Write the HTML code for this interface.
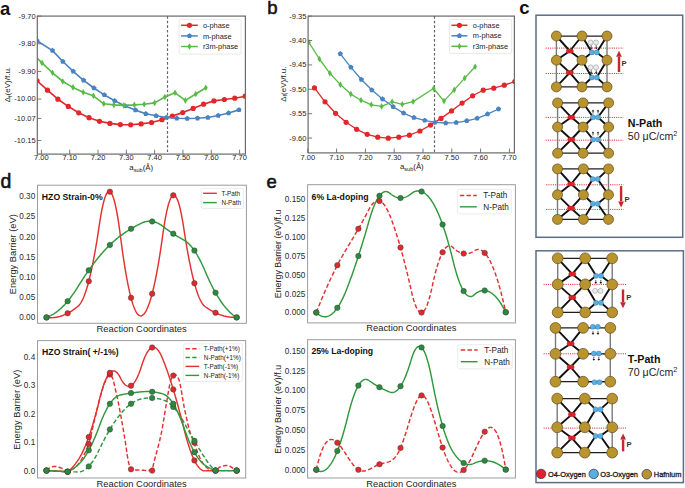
<!DOCTYPE html>
<html><head><meta charset="utf-8"><style>
html,body{margin:0;padding:0;background:#fff;}
svg{display:block;font-family:"Liberation Sans", sans-serif;}
</style></head><body>
<svg width="685" height="488" viewBox="0 0 685 488">
<rect x="0" y="0" width="685" height="488" fill="#fff"/>
<clipPath id="ca"><rect x="37.3" y="16.1" width="208.1" height="138"/></clipPath>
<line x1="167.5" y1="16.1" x2="167.5" y2="154.1" stroke="#666" stroke-width="1.2" stroke-dasharray="2.6,2.0"/>
<g clip-path="url(#ca)">
<polyline points="37.07,80.8 47.48,90.2 57.88,99.2 68.28,106.4 78.69,112.8 89.09,117.7 99.5,121.3 109.91,123.4 120.31,124.6 130.72,124.8 141.12,123.9 151.53,122.5 161.93,119.7 172.33,116 182.74,112.6 193.14,108.4 203.55,104.2 213.95,100.9 224.36,99.5 234.76,98.2 245.17,96.2" fill="none" stroke="#e2262b" stroke-width="1.65" stroke-linejoin="round"/>
<circle cx="37.07" cy="80.8" r="2.6" fill="#e2262b" stroke="none" stroke-width="0"/>
<circle cx="47.48" cy="90.2" r="2.6" fill="#e2262b" stroke="none" stroke-width="0"/>
<circle cx="57.88" cy="99.2" r="2.6" fill="#e2262b" stroke="none" stroke-width="0"/>
<circle cx="68.28" cy="106.4" r="2.6" fill="#e2262b" stroke="none" stroke-width="0"/>
<circle cx="78.69" cy="112.8" r="2.6" fill="#e2262b" stroke="none" stroke-width="0"/>
<circle cx="89.09" cy="117.7" r="2.6" fill="#e2262b" stroke="none" stroke-width="0"/>
<circle cx="99.5" cy="121.3" r="2.6" fill="#e2262b" stroke="none" stroke-width="0"/>
<circle cx="109.91" cy="123.4" r="2.6" fill="#e2262b" stroke="none" stroke-width="0"/>
<circle cx="120.31" cy="124.6" r="2.6" fill="#e2262b" stroke="none" stroke-width="0"/>
<circle cx="130.72" cy="124.8" r="2.6" fill="#e2262b" stroke="none" stroke-width="0"/>
<circle cx="141.12" cy="123.9" r="2.6" fill="#e2262b" stroke="none" stroke-width="0"/>
<circle cx="151.53" cy="122.5" r="2.6" fill="#e2262b" stroke="none" stroke-width="0"/>
<circle cx="161.93" cy="119.7" r="2.6" fill="#e2262b" stroke="none" stroke-width="0"/>
<circle cx="172.33" cy="116" r="2.6" fill="#e2262b" stroke="none" stroke-width="0"/>
<circle cx="182.74" cy="112.6" r="2.6" fill="#e2262b" stroke="none" stroke-width="0"/>
<circle cx="193.14" cy="108.4" r="2.6" fill="#e2262b" stroke="none" stroke-width="0"/>
<circle cx="203.55" cy="104.2" r="2.6" fill="#e2262b" stroke="none" stroke-width="0"/>
<circle cx="213.95" cy="100.9" r="2.6" fill="#e2262b" stroke="none" stroke-width="0"/>
<circle cx="224.36" cy="99.5" r="2.6" fill="#e2262b" stroke="none" stroke-width="0"/>
<circle cx="234.76" cy="98.2" r="2.6" fill="#e2262b" stroke="none" stroke-width="0"/>
<circle cx="245.17" cy="96.2" r="2.6" fill="#e2262b" stroke="none" stroke-width="0"/>
<polyline points="37,40.8 52.5,50.6 62.86,61.5 73.22,71.3 83.58,80.3 93.94,88 104.3,94.9 114.66,100.8 125.02,105.9 135.38,110.1 145.74,113.8 156.1,115.8 166.46,117.5 176.82,118.3 187.18,118.5 197.54,118.2 207.9,117.5 218.26,115.5 228.62,113 238.98,109.9" fill="none" stroke="#4a83c1" stroke-width="1.65" stroke-linejoin="round"/>
<polygon points="37,38.05 34.38,39.95 35.38,43.02 38.62,43.02 39.62,39.95" fill="#4a83c1"/>
<polygon points="52.5,47.85 49.88,49.75 50.88,52.82 54.12,52.82 55.12,49.75" fill="#4a83c1"/>
<polygon points="62.86,58.75 60.24,60.65 61.24,63.72 64.48,63.72 65.48,60.65" fill="#4a83c1"/>
<polygon points="73.22,68.55 70.6,70.45 71.6,73.52 74.84,73.52 75.84,70.45" fill="#4a83c1"/>
<polygon points="83.58,77.55 80.96,79.45 81.96,82.52 85.2,82.52 86.2,79.45" fill="#4a83c1"/>
<polygon points="93.94,85.25 91.32,87.15 92.32,90.22 95.56,90.22 96.56,87.15" fill="#4a83c1"/>
<polygon points="104.3,92.15 101.68,94.05 102.68,97.12 105.92,97.12 106.92,94.05" fill="#4a83c1"/>
<polygon points="114.66,98.05 112.04,99.95 113.04,103.02 116.28,103.02 117.28,99.95" fill="#4a83c1"/>
<polygon points="125.02,103.15 122.4,105.05 123.4,108.12 126.64,108.12 127.64,105.05" fill="#4a83c1"/>
<polygon points="135.38,107.35 132.76,109.25 133.76,112.32 137,112.32 138,109.25" fill="#4a83c1"/>
<polygon points="145.74,111.05 143.12,112.95 144.12,116.02 147.36,116.02 148.36,112.95" fill="#4a83c1"/>
<polygon points="156.1,113.05 153.48,114.95 154.48,118.02 157.72,118.02 158.72,114.95" fill="#4a83c1"/>
<polygon points="166.46,114.75 163.84,116.65 164.84,119.72 168.08,119.72 169.08,116.65" fill="#4a83c1"/>
<polygon points="176.82,115.55 174.2,117.45 175.2,120.52 178.44,120.52 179.44,117.45" fill="#4a83c1"/>
<polygon points="187.18,115.75 184.56,117.65 185.56,120.72 188.8,120.72 189.8,117.65" fill="#4a83c1"/>
<polygon points="197.54,115.45 194.92,117.35 195.92,120.42 199.16,120.42 200.16,117.35" fill="#4a83c1"/>
<polygon points="207.9,114.75 205.28,116.65 206.28,119.72 209.52,119.72 210.52,116.65" fill="#4a83c1"/>
<polygon points="218.26,112.75 215.64,114.65 216.64,117.72 219.88,117.72 220.88,114.65" fill="#4a83c1"/>
<polygon points="228.62,110.25 226,112.15 227,115.22 230.24,115.22 231.24,112.15" fill="#4a83c1"/>
<polygon points="238.98,107.15 236.36,109.05 237.36,112.12 240.6,112.12 241.6,109.05" fill="#4a83c1"/>
<polyline points="31.6,53.2 42,62.9 52.5,72.8 62.8,81.5 73,87.4 83.2,92.2 93.4,95.8 103.8,103.8 113.9,104.9 123.9,105.4 134.3,104.9 144.2,104.2 154.6,102.9 164.9,97 175,92.8 185.4,100.4 195.8,94 205.8,87.8" fill="none" stroke="#58bb46" stroke-width="1.65" stroke-linejoin="round"/>
<polygon points="31.6,49.9 33.55,53.2 31.6,56.5 29.65,53.2" fill="#58bb46"/>
<polygon points="42,59.6 43.95,62.9 42,66.2 40.05,62.9" fill="#58bb46"/>
<polygon points="52.5,69.5 54.45,72.8 52.5,76.1 50.55,72.8" fill="#58bb46"/>
<polygon points="62.8,78.2 64.75,81.5 62.8,84.8 60.85,81.5" fill="#58bb46"/>
<polygon points="73,84.1 74.95,87.4 73,90.7 71.05,87.4" fill="#58bb46"/>
<polygon points="83.2,88.9 85.15,92.2 83.2,95.5 81.25,92.2" fill="#58bb46"/>
<polygon points="93.4,92.5 95.35,95.8 93.4,99.1 91.45,95.8" fill="#58bb46"/>
<polygon points="103.8,100.5 105.75,103.8 103.8,107.1 101.85,103.8" fill="#58bb46"/>
<polygon points="113.9,101.6 115.85,104.9 113.9,108.2 111.95,104.9" fill="#58bb46"/>
<polygon points="123.9,102.1 125.85,105.4 123.9,108.7 121.95,105.4" fill="#58bb46"/>
<polygon points="134.3,101.6 136.25,104.9 134.3,108.2 132.35,104.9" fill="#58bb46"/>
<polygon points="144.2,100.9 146.15,104.2 144.2,107.5 142.25,104.2" fill="#58bb46"/>
<polygon points="154.6,99.6 156.55,102.9 154.6,106.2 152.65,102.9" fill="#58bb46"/>
<polygon points="164.9,93.7 166.85,97 164.9,100.3 162.95,97" fill="#58bb46"/>
<polygon points="175,89.5 176.95,92.8 175,96.1 173.05,92.8" fill="#58bb46"/>
<polygon points="185.4,97.1 187.35,100.4 185.4,103.7 183.45,100.4" fill="#58bb46"/>
<polygon points="195.8,90.7 197.75,94 195.8,97.3 193.85,94" fill="#58bb46"/>
<polygon points="205.8,84.5 207.75,87.8 205.8,91.1 203.85,87.8" fill="#58bb46"/>
</g>
<rect x="37.3" y="16.1" width="208.1" height="138" fill="none" stroke="#6a6a6a" stroke-width="1.2"/>
<line x1="41.4" y1="154.1" x2="41.4" y2="149.7" stroke="#6a6a6a" stroke-width="0.9"/>
<text x="41.4" y="160.4" font-size="7.5" text-anchor="middle" font-weight="normal" fill="#262626" >7.00</text>
<line x1="69.71" y1="154.1" x2="69.71" y2="149.7" stroke="#6a6a6a" stroke-width="0.9"/>
<text x="69.71" y="160.4" font-size="7.5" text-anchor="middle" font-weight="normal" fill="#262626" >7.10</text>
<line x1="98.02" y1="154.1" x2="98.02" y2="149.7" stroke="#6a6a6a" stroke-width="0.9"/>
<text x="98.02" y="160.4" font-size="7.5" text-anchor="middle" font-weight="normal" fill="#262626" >7.20</text>
<line x1="126.33" y1="154.1" x2="126.33" y2="149.7" stroke="#6a6a6a" stroke-width="0.9"/>
<text x="126.33" y="160.4" font-size="7.5" text-anchor="middle" font-weight="normal" fill="#262626" >7.30</text>
<line x1="154.64" y1="154.1" x2="154.64" y2="149.7" stroke="#6a6a6a" stroke-width="0.9"/>
<text x="154.64" y="160.4" font-size="7.5" text-anchor="middle" font-weight="normal" fill="#262626" >7.40</text>
<line x1="182.95" y1="154.1" x2="182.95" y2="149.7" stroke="#6a6a6a" stroke-width="0.9"/>
<text x="182.95" y="160.4" font-size="7.5" text-anchor="middle" font-weight="normal" fill="#262626" >7.50</text>
<line x1="211.26" y1="154.1" x2="211.26" y2="149.7" stroke="#6a6a6a" stroke-width="0.9"/>
<text x="211.26" y="160.4" font-size="7.5" text-anchor="middle" font-weight="normal" fill="#262626" >7.60</text>
<line x1="239.57" y1="154.1" x2="239.57" y2="149.7" stroke="#6a6a6a" stroke-width="0.9"/>
<text x="239.57" y="160.4" font-size="7.5" text-anchor="middle" font-weight="normal" fill="#262626" >7.70</text>
<line x1="37.3" y1="16.1" x2="41.3" y2="16.1" stroke="#6a6a6a" stroke-width="0.9"/>
<text x="35.6" y="18.5" font-size="7.5" text-anchor="end" font-weight="normal" fill="#262626" >-9.70</text>
<line x1="37.3" y1="43.75" x2="41.3" y2="43.75" stroke="#6a6a6a" stroke-width="0.9"/>
<text x="35.6" y="46.15" font-size="7.5" text-anchor="end" font-weight="normal" fill="#262626" >-9.80</text>
<line x1="37.3" y1="71.4" x2="41.3" y2="71.4" stroke="#6a6a6a" stroke-width="0.9"/>
<text x="35.6" y="73.8" font-size="7.5" text-anchor="end" font-weight="normal" fill="#262626" >-9.90</text>
<line x1="37.3" y1="99.05" x2="41.3" y2="99.05" stroke="#6a6a6a" stroke-width="0.9"/>
<text x="35.6" y="101.45" font-size="7.5" text-anchor="end" font-weight="normal" fill="#262626" >-10.00</text>
<line x1="37.3" y1="118.41" x2="41.3" y2="118.41" stroke="#6a6a6a" stroke-width="0.9"/>
<text x="35.6" y="120.81" font-size="7.5" text-anchor="end" font-weight="normal" fill="#262626" >-10.07</text>
<line x1="37.3" y1="140.53" x2="41.3" y2="140.53" stroke="#6a6a6a" stroke-width="0.9"/>
<text x="35.6" y="142.93" font-size="7.5" text-anchor="end" font-weight="normal" fill="#262626" >-10.15</text>
<rect x="179.2" y="19.4" width="61.9" height="34.7" rx="1.5" fill="#fff" fill-opacity="0.8" stroke="#e0e0e0" stroke-width="0.7"/>
<line x1="181.1" y1="25.3" x2="197.8" y2="25.3" stroke="#e2262b" stroke-width="1.5"/>
<circle cx="189.45" cy="25.3" r="2.6" fill="#e2262b" stroke="none" stroke-width="0"/>
<text x="202.9" y="27.9" font-size="7.4" text-anchor="start" font-weight="normal" fill="#222" >o-phase</text>
<line x1="181.1" y1="35.9" x2="197.8" y2="35.9" stroke="#4a83c1" stroke-width="1.5"/>
<polygon points="189.45,33.15 186.83,35.05 187.83,38.12 191.07,38.12 192.07,35.05" fill="#4a83c1"/>
<text x="202.9" y="38.5" font-size="7.4" text-anchor="start" font-weight="normal" fill="#222" >m-phase</text>
<line x1="181.1" y1="46.5" x2="197.8" y2="46.5" stroke="#58bb46" stroke-width="1.5"/>
<polygon points="189.45,43.2 191.4,46.5 189.45,49.8 187.5,46.5" fill="#58bb46"/>
<text x="202.9" y="49.1" font-size="7.4" text-anchor="start" font-weight="normal" fill="#222" >r3m-phase</text>
<text transform="translate(10.4,84.6) rotate(-90)" font-size="8" text-anchor="middle" fill="#222">&#916;<tspan font-size="5.6" dy="1.6">f</tspan><tspan dy="-1.6">(eV)/f.u.</tspan></text>
<text x="141.2" y="170.2" font-size="7.8" text-anchor="middle" fill="#222">a<tspan font-size="5.6" dy="1.7">sub</tspan><tspan dy="-1.7">(&#197;)</tspan></text>
<clipPath id="cb"><rect x="308.1" y="16.1" width="206.3" height="136.8"/></clipPath>
<line x1="434.5" y1="16.1" x2="434.5" y2="152.9" stroke="#666" stroke-width="1.2" stroke-dasharray="2.6,2.0"/>
<g clip-path="url(#cb)">
<polyline points="314.47,87.9 325.02,101.8 335.56,113.3 346.11,122.3 356.65,129.3 367.2,134.3 377.74,137.2 388.29,138.2 398.83,137.2 409.38,135.2 419.92,131 430.47,125.1 441.01,118.4 451.56,110.9 462.1,103.1 472.65,95.8 483.19,90.2 493.74,88.2 504.28,85.2 514.83,81.5" fill="none" stroke="#e2262b" stroke-width="1.3" stroke-linejoin="round"/>
<circle cx="314.47" cy="87.9" r="2.6" fill="#e2262b" stroke="none" stroke-width="0"/>
<circle cx="325.02" cy="101.8" r="2.6" fill="#e2262b" stroke="none" stroke-width="0"/>
<circle cx="335.56" cy="113.3" r="2.6" fill="#e2262b" stroke="none" stroke-width="0"/>
<circle cx="346.11" cy="122.3" r="2.6" fill="#e2262b" stroke="none" stroke-width="0"/>
<circle cx="356.65" cy="129.3" r="2.6" fill="#e2262b" stroke="none" stroke-width="0"/>
<circle cx="367.2" cy="134.3" r="2.6" fill="#e2262b" stroke="none" stroke-width="0"/>
<circle cx="377.74" cy="137.2" r="2.6" fill="#e2262b" stroke="none" stroke-width="0"/>
<circle cx="388.29" cy="138.2" r="2.6" fill="#e2262b" stroke="none" stroke-width="0"/>
<circle cx="398.83" cy="137.2" r="2.6" fill="#e2262b" stroke="none" stroke-width="0"/>
<circle cx="409.38" cy="135.2" r="2.6" fill="#e2262b" stroke="none" stroke-width="0"/>
<circle cx="419.92" cy="131" r="2.6" fill="#e2262b" stroke="none" stroke-width="0"/>
<circle cx="430.47" cy="125.1" r="2.6" fill="#e2262b" stroke="none" stroke-width="0"/>
<circle cx="441.01" cy="118.4" r="2.6" fill="#e2262b" stroke="none" stroke-width="0"/>
<circle cx="451.56" cy="110.9" r="2.6" fill="#e2262b" stroke="none" stroke-width="0"/>
<circle cx="462.1" cy="103.1" r="2.6" fill="#e2262b" stroke="none" stroke-width="0"/>
<circle cx="472.65" cy="95.8" r="2.6" fill="#e2262b" stroke="none" stroke-width="0"/>
<circle cx="483.19" cy="90.2" r="2.6" fill="#e2262b" stroke="none" stroke-width="0"/>
<circle cx="493.74" cy="88.2" r="2.6" fill="#e2262b" stroke="none" stroke-width="0"/>
<circle cx="504.28" cy="85.2" r="2.6" fill="#e2262b" stroke="none" stroke-width="0"/>
<circle cx="514.83" cy="81.5" r="2.6" fill="#e2262b" stroke="none" stroke-width="0"/>
<polyline points="340.3,53.8 350.9,67.3 361.4,79.5 371.8,90 382.5,99 393.1,106.7 403.5,113.1 413.9,117.6 424.7,120.4 434.9,122.4 445.7,123 456.2,122.6 466.8,120.8 477.2,118.3 487.6,114.1 498.5,109" fill="none" stroke="#4a83c1" stroke-width="1.3" stroke-linejoin="round"/>
<polygon points="340.3,51.05 337.68,52.95 338.68,56.02 341.92,56.02 342.92,52.95" fill="#4a83c1"/>
<polygon points="350.9,64.55 348.28,66.45 349.28,69.52 352.52,69.52 353.52,66.45" fill="#4a83c1"/>
<polygon points="361.4,76.75 358.78,78.65 359.78,81.72 363.02,81.72 364.02,78.65" fill="#4a83c1"/>
<polygon points="371.8,87.25 369.18,89.15 370.18,92.22 373.42,92.22 374.42,89.15" fill="#4a83c1"/>
<polygon points="382.5,96.25 379.88,98.15 380.88,101.22 384.12,101.22 385.12,98.15" fill="#4a83c1"/>
<polygon points="393.1,103.95 390.48,105.85 391.48,108.92 394.72,108.92 395.72,105.85" fill="#4a83c1"/>
<polygon points="403.5,110.35 400.88,112.25 401.88,115.32 405.12,115.32 406.12,112.25" fill="#4a83c1"/>
<polygon points="413.9,114.85 411.28,116.75 412.28,119.82 415.52,119.82 416.52,116.75" fill="#4a83c1"/>
<polygon points="424.7,117.65 422.08,119.55 423.08,122.62 426.32,122.62 427.32,119.55" fill="#4a83c1"/>
<polygon points="434.9,119.65 432.28,121.55 433.28,124.62 436.52,124.62 437.52,121.55" fill="#4a83c1"/>
<polygon points="445.7,120.25 443.08,122.15 444.08,125.22 447.32,125.22 448.32,122.15" fill="#4a83c1"/>
<polygon points="456.2,119.85 453.58,121.75 454.58,124.82 457.82,124.82 458.82,121.75" fill="#4a83c1"/>
<polygon points="466.8,118.05 464.18,119.95 465.18,123.02 468.42,123.02 469.42,119.95" fill="#4a83c1"/>
<polygon points="477.2,115.55 474.58,117.45 475.58,120.52 478.82,120.52 479.82,117.45" fill="#4a83c1"/>
<polygon points="487.6,111.35 484.98,113.25 485.98,116.32 489.22,116.32 490.22,113.25" fill="#4a83c1"/>
<polygon points="498.5,106.25 495.88,108.15 496.88,111.22 500.12,111.22 501.12,108.15" fill="#4a83c1"/>
<polyline points="308.9,42.3 319.4,59 329.9,73.3 340.3,84.6 350.8,94.1 361,100.2 371.3,104.8 381.6,106.4 392.1,101.8 402.3,104.3 413.1,101.6 433.6,88.5 444,101.1 454.2,89.9 464.7,78.1 475.1,66.7" fill="none" stroke="#58bb46" stroke-width="1.3" stroke-linejoin="round"/>
<polygon points="308.9,39 310.85,42.3 308.9,45.6 306.95,42.3" fill="#58bb46"/>
<polygon points="319.4,55.7 321.35,59 319.4,62.3 317.45,59" fill="#58bb46"/>
<polygon points="329.9,70 331.85,73.3 329.9,76.6 327.95,73.3" fill="#58bb46"/>
<polygon points="340.3,81.3 342.25,84.6 340.3,87.9 338.35,84.6" fill="#58bb46"/>
<polygon points="350.8,90.8 352.75,94.1 350.8,97.4 348.85,94.1" fill="#58bb46"/>
<polygon points="361,96.9 362.95,100.2 361,103.5 359.05,100.2" fill="#58bb46"/>
<polygon points="371.3,101.5 373.25,104.8 371.3,108.1 369.35,104.8" fill="#58bb46"/>
<polygon points="381.6,103.1 383.55,106.4 381.6,109.7 379.65,106.4" fill="#58bb46"/>
<polygon points="392.1,98.5 394.05,101.8 392.1,105.1 390.15,101.8" fill="#58bb46"/>
<polygon points="402.3,101 404.25,104.3 402.3,107.6 400.35,104.3" fill="#58bb46"/>
<polygon points="413.1,98.3 415.05,101.6 413.1,104.9 411.15,101.6" fill="#58bb46"/>
<polygon points="433.6,85.2 435.55,88.5 433.6,91.8 431.65,88.5" fill="#58bb46"/>
<polygon points="444,97.8 445.95,101.1 444,104.4 442.05,101.1" fill="#58bb46"/>
<polygon points="454.2,86.6 456.15,89.9 454.2,93.2 452.25,89.9" fill="#58bb46"/>
<polygon points="464.7,74.8 466.65,78.1 464.7,81.4 462.75,78.1" fill="#58bb46"/>
<polygon points="475.1,63.4 477.05,66.7 475.1,70 473.15,66.7" fill="#58bb46"/>
</g>
<rect x="308.1" y="16.1" width="206.3" height="136.8" fill="none" stroke="#6a6a6a" stroke-width="1.2"/>
<line x1="307.8" y1="152.9" x2="307.8" y2="148.5" stroke="#6a6a6a" stroke-width="0.9"/>
<text x="307.8" y="159.8" font-size="7.5" text-anchor="middle" font-weight="normal" fill="#262626" >7.00</text>
<line x1="336.6" y1="152.9" x2="336.6" y2="148.5" stroke="#6a6a6a" stroke-width="0.9"/>
<text x="336.6" y="159.8" font-size="7.5" text-anchor="middle" font-weight="normal" fill="#262626" >7.10</text>
<line x1="365.4" y1="152.9" x2="365.4" y2="148.5" stroke="#6a6a6a" stroke-width="0.9"/>
<text x="365.4" y="159.8" font-size="7.5" text-anchor="middle" font-weight="normal" fill="#262626" >7.20</text>
<line x1="394.2" y1="152.9" x2="394.2" y2="148.5" stroke="#6a6a6a" stroke-width="0.9"/>
<text x="394.2" y="159.8" font-size="7.5" text-anchor="middle" font-weight="normal" fill="#262626" >7.30</text>
<line x1="423" y1="152.9" x2="423" y2="148.5" stroke="#6a6a6a" stroke-width="0.9"/>
<text x="423" y="159.8" font-size="7.5" text-anchor="middle" font-weight="normal" fill="#262626" >7.40</text>
<line x1="451.8" y1="152.9" x2="451.8" y2="148.5" stroke="#6a6a6a" stroke-width="0.9"/>
<text x="451.8" y="159.8" font-size="7.5" text-anchor="middle" font-weight="normal" fill="#262626" >7.50</text>
<line x1="480.6" y1="152.9" x2="480.6" y2="148.5" stroke="#6a6a6a" stroke-width="0.9"/>
<text x="480.6" y="159.8" font-size="7.5" text-anchor="middle" font-weight="normal" fill="#262626" >7.60</text>
<line x1="509.4" y1="152.9" x2="509.4" y2="148.5" stroke="#6a6a6a" stroke-width="0.9"/>
<text x="509.4" y="159.8" font-size="7.5" text-anchor="middle" font-weight="normal" fill="#262626" >7.70</text>
<line x1="308.1" y1="16.1" x2="312.1" y2="16.1" stroke="#6a6a6a" stroke-width="0.9"/>
<text x="306.4" y="18.5" font-size="7.5" text-anchor="end" font-weight="normal" fill="#262626" >-9.35</text>
<line x1="308.1" y1="40.5" x2="312.1" y2="40.5" stroke="#6a6a6a" stroke-width="0.9"/>
<text x="306.4" y="42.9" font-size="7.5" text-anchor="end" font-weight="normal" fill="#262626" >-9.40</text>
<line x1="308.1" y1="64.9" x2="312.1" y2="64.9" stroke="#6a6a6a" stroke-width="0.9"/>
<text x="306.4" y="67.3" font-size="7.5" text-anchor="end" font-weight="normal" fill="#262626" >-9.45</text>
<line x1="308.1" y1="89.3" x2="312.1" y2="89.3" stroke="#6a6a6a" stroke-width="0.9"/>
<text x="306.4" y="91.7" font-size="7.5" text-anchor="end" font-weight="normal" fill="#262626" >-9.50</text>
<line x1="308.1" y1="113.7" x2="312.1" y2="113.7" stroke="#6a6a6a" stroke-width="0.9"/>
<text x="306.4" y="116.1" font-size="7.5" text-anchor="end" font-weight="normal" fill="#262626" >-9.55</text>
<line x1="308.1" y1="138.1" x2="312.1" y2="138.1" stroke="#6a6a6a" stroke-width="0.9"/>
<text x="306.4" y="140.5" font-size="7.5" text-anchor="end" font-weight="normal" fill="#262626" >-9.60</text>
<rect x="449.6" y="19.5" width="62.1" height="33.9" rx="1.5" fill="#fff" fill-opacity="0.8" stroke="#e0e0e0" stroke-width="0.7"/>
<line x1="451.4" y1="25.3" x2="467.4" y2="25.3" stroke="#e2262b" stroke-width="1.5"/>
<circle cx="459.4" cy="25.3" r="2.6" fill="#e2262b" stroke="none" stroke-width="0"/>
<text x="472.8" y="27.9" font-size="7.4" text-anchor="start" font-weight="normal" fill="#222" >o-phase</text>
<line x1="451.4" y1="35.8" x2="467.4" y2="35.8" stroke="#4a83c1" stroke-width="1.5"/>
<polygon points="459.4,33.05 456.78,34.95 457.78,38.02 461.02,38.02 462.02,34.95" fill="#4a83c1"/>
<text x="472.8" y="38.4" font-size="7.4" text-anchor="start" font-weight="normal" fill="#222" >m-phase</text>
<line x1="451.4" y1="46.3" x2="467.4" y2="46.3" stroke="#58bb46" stroke-width="1.5"/>
<polygon points="459.4,43 461.35,46.3 459.4,49.6 457.45,46.3" fill="#58bb46"/>
<text x="472.8" y="48.9" font-size="7.4" text-anchor="start" font-weight="normal" fill="#222" >r3m-phase</text>
<text transform="translate(285.8,84.2) rotate(-90)" font-size="8" text-anchor="middle" fill="#222">&#916;<tspan font-size="5.6" dy="1.6">f</tspan><tspan dy="-1.6">(eV)/f.u.</tspan></text>
<text x="411.8" y="169" font-size="7.8" text-anchor="middle" fill="#222">a<tspan font-size="5.6" dy="1.7">sub</tspan><tspan dy="-1.7">(&#197;)</tspan></text>
<rect x="37.5" y="185.2" width="208.9" height="138.1" fill="none" stroke="#9c9c9c" stroke-width="1"/>
<polyline points="46.5,317.4 47.2,317.49 47.91,317.56 48.61,317.61 49.32,317.65 50.02,317.68 50.73,317.69 51.43,317.68 52.13,317.66 52.84,317.62 53.54,317.57 54.25,317.5 54.95,317.42 55.66,317.32 56.36,317.21 57.06,317.08 57.77,316.94 58.47,316.78 59.18,316.6 59.88,316.41 60.59,316.2 61.29,315.98 62,315.75 62.7,315.49 63.4,315.23 64.11,314.94 64.81,314.65 65.52,314.33 66.22,314 66.93,313.66 67.63,313.3 68.33,312.93 69.04,312.53 69.74,312.13 70.45,311.71 71.15,311.27 71.86,310.82 72.56,310.35 73.26,309.87 73.97,309.37 74.67,308.86 75.38,308.33 76.08,307.79 76.79,307.23 77.49,306.65 78.19,306.06 78.9,305.39 79.6,304.58 80.31,303.64 81.01,302.55 81.72,301.32 82.42,299.95 83.13,298.44 83.83,296.79 84.53,294.99 85.24,293.06 85.94,290.99 86.65,288.78 87.35,286.43 88.06,283.93 88.76,281.3 89.46,278.53 90.17,275.61 90.87,272.56 91.58,269.36 92.28,266.03 92.99,262.55 93.69,258.94 94.39,255.18 95.1,251.28 95.8,247.25 96.51,243.07 97.21,238.75 97.92,234.29 98.62,229.69 99.32,224.95 100.03,220.32 100.73,216.03 101.44,212.08 102.14,208.48 102.85,205.23 103.55,202.32 104.26,199.76 104.96,197.54 105.66,195.67 106.37,194.14 107.07,192.96 107.78,192.13 108.48,191.64 109.19,191.5 109.89,191.7 110.59,192.25 111.3,193.14 112,194.38 112.71,195.97 113.41,197.9 114.12,200.17 114.82,202.8 115.52,205.76 116.23,209.08 116.93,212.74 117.64,216.74 118.34,221.09 119.05,225.79 119.75,230.83 120.45,236.22 121.16,241.68 121.86,246.95 122.57,252.02 123.27,256.9 123.98,261.59 124.68,266.08 125.39,270.38 126.09,274.49 126.79,278.4 127.5,282.12 128.2,285.64 128.91,288.97 129.61,292.11 130.32,295.05 131.02,297.8 131.72,300.35 132.43,302.71 133.13,304.88 133.84,306.85 134.54,308.63 135.25,310.22 135.95,311.61 136.65,312.81 137.36,313.81 138.06,314.62 138.77,315.23 139.47,315.65 140.18,315.88 140.88,315.92 141.58,315.75 142.29,315.42 142.99,314.92 143.7,314.26 144.4,313.43 145.11,312.45 145.81,311.3 146.52,309.99 147.22,308.52 147.92,306.89 148.63,305.09 149.33,303.14 150.04,301.02 150.74,298.74 151.45,296.3 152.15,293.7 152.85,290.94 153.56,288.01 154.26,284.92 154.97,281.67 155.67,278.26 156.38,274.69 157.08,270.95 157.78,267.06 158.49,263 159.19,258.78 159.9,254.4 160.6,249.86 161.31,245.15 162.01,240.28 162.71,235.26 163.42,230.31 164.12,225.69 164.83,221.4 165.53,217.43 166.24,213.79 166.94,210.47 167.65,207.48 168.35,204.82 169.05,202.48 169.76,200.47 170.46,198.78 171.17,197.42 171.87,196.39 172.58,195.68 173.28,195.3 173.98,195.24 174.69,195.52 175.39,196.11 176.1,197.04 176.8,198.29 177.51,199.86 178.21,201.76 178.91,203.99 179.62,206.54 180.32,209.42 181.03,212.63 181.73,216.16 182.44,220.02 183.14,224.2 183.84,228.71 184.55,233.32 185.25,237.78 185.96,242.11 186.66,246.29 187.37,250.34 188.07,254.25 188.78,258.02 189.48,261.66 190.18,265.15 190.89,268.51 191.59,271.72 192.3,274.8 193,277.74 193.71,280.54 194.41,283.2 195.11,285.72 195.82,288.11 196.52,290.35 197.23,292.46 197.93,294.43 198.64,296.26 199.34,297.95 200.04,299.5 200.75,300.91 201.45,302.18 202.16,303.32 202.86,304.32 203.57,305.17 204.27,305.89 204.97,306.47 205.68,306.98 206.38,307.47 207.09,307.95 207.79,308.42 208.5,308.88 209.2,309.33 209.91,309.76 210.61,310.18 211.31,310.59 212.02,310.99 212.72,311.38 213.43,311.75 214.13,312.11 214.84,312.46 215.54,312.8 216.24,313.13 216.95,313.44 217.65,313.74 218.36,314.03 219.06,314.31 219.77,314.58 220.47,314.83 221.17,315.08 221.88,315.31 222.58,315.53 223.29,315.73 223.99,315.93 224.7,316.11 225.4,316.28 226.1,316.44 226.81,316.59 227.51,316.72 228.22,316.85 228.92,316.96 229.63,317.06 230.33,317.15 231.04,317.22 231.74,317.29 232.44,317.34 233.15,317.38 233.85,317.41 234.56,317.42 235.26,317.43 235.97,317.42 236.67,317.4" fill="none" stroke="#e3312f" stroke-width="1.45"/>
<polyline points="46.5,317.4 47.2,317.15 47.91,316.88 48.61,316.59 49.32,316.28 50.02,315.95 50.73,315.6 51.43,315.23 52.13,314.84 52.84,314.43 53.54,314 54.25,313.55 54.95,313.08 55.66,312.59 56.36,312.08 57.06,311.55 57.77,311 58.47,310.43 59.18,309.84 59.88,309.23 60.59,308.6 61.29,307.95 62,307.28 62.7,306.59 63.4,305.88 64.11,305.15 64.81,304.4 65.52,303.63 66.22,302.84 66.93,302.03 67.63,301.2 68.33,300.35 69.04,299.48 69.74,298.59 70.45,297.68 71.15,296.75 71.86,295.8 72.56,294.82 73.26,293.83 73.97,292.82 74.67,291.79 75.38,290.74 76.08,289.67 76.79,288.58 77.49,287.47 78.19,286.34 78.9,285.2 79.6,284.07 80.31,282.96 81.01,281.85 81.72,280.75 82.42,279.66 83.13,278.58 83.83,277.51 84.53,276.45 85.24,275.4 85.94,274.36 86.65,273.33 87.35,272.31 88.06,271.3 88.76,270.3 89.46,269.31 90.17,268.33 90.87,267.35 91.58,266.39 92.28,265.44 92.99,264.49 93.69,263.56 94.39,262.63 95.1,261.72 95.8,260.81 96.51,259.92 97.21,259.03 97.92,258.16 98.62,257.29 99.32,256.43 100.03,255.58 100.73,254.75 101.44,253.92 102.14,253.11 102.85,252.31 103.55,251.52 104.26,250.74 104.96,249.97 105.66,249.21 106.37,248.47 107.07,247.73 107.78,247.01 108.48,246.29 109.19,245.59 109.89,244.9 110.59,244.22 111.3,243.55 112,242.89 112.71,242.25 113.41,241.61 114.12,240.99 114.82,240.38 115.52,239.77 116.23,239.18 116.93,238.6 117.64,238.04 118.34,237.48 119.05,236.93 119.75,236.4 120.45,235.87 121.16,235.36 121.86,234.85 122.57,234.35 123.27,233.85 123.98,233.36 124.68,232.88 125.39,232.4 126.09,231.93 126.79,231.46 127.5,231 128.2,230.55 128.91,230.1 129.61,229.66 130.32,229.23 131.02,228.8 131.72,228.38 132.43,227.96 133.13,227.55 133.84,227.15 134.54,226.75 135.25,226.36 135.95,225.98 136.65,225.6 137.36,225.22 138.06,224.86 138.77,224.5 139.47,224.14 140.18,223.8 140.88,223.45 141.58,223.12 142.29,222.8 142.99,222.51 143.7,222.25 144.4,222.02 145.11,221.82 145.81,221.65 146.52,221.5 147.22,221.39 147.92,221.3 148.63,221.25 149.33,221.22 150.04,221.22 150.74,221.25 151.45,221.31 152.15,221.4 152.85,221.52 153.56,221.66 154.26,221.84 154.97,222.04 155.67,222.28 156.38,222.54 157.08,222.83 157.78,223.15 158.49,223.5 159.19,223.88 159.9,224.29 160.6,224.72 161.31,225.19 162.01,225.69 162.71,226.21 163.42,226.74 164.12,227.27 164.83,227.8 165.53,228.32 166.24,228.84 166.94,229.34 167.65,229.85 168.35,230.35 169.05,230.84 169.76,231.33 170.46,231.82 171.17,232.29 171.87,232.77 172.58,233.24 173.28,233.7 173.98,234.16 174.69,234.61 175.39,235.06 176.1,235.5 176.8,235.94 177.51,236.37 178.21,236.8 178.91,237.22 179.62,237.64 180.32,238.05 181.03,238.45 181.73,238.86 182.44,239.25 183.14,239.64 183.84,240.03 184.55,240.43 185.25,240.88 185.96,241.37 186.66,241.9 187.37,242.48 188.07,243.1 188.78,243.76 189.48,244.47 190.18,245.21 190.89,246 191.59,246.84 192.3,247.71 193,248.63 193.71,249.59 194.41,250.6 195.11,251.65 195.82,252.74 196.52,253.87 197.23,255.05 197.93,256.27 198.64,257.53 199.34,258.84 200.04,260.19 200.75,261.58 201.45,263.01 202.16,264.49 202.86,266.01 203.57,267.57 204.27,269.18 204.97,270.82 205.68,272.48 206.38,274.11 207.09,275.71 207.79,277.28 208.5,278.82 209.2,280.34 209.91,281.82 210.61,283.28 211.31,284.71 212.02,286.11 212.72,287.49 213.43,288.83 214.13,290.15 214.84,291.44 215.54,292.7 216.24,293.93 216.95,295.14 217.65,296.31 218.36,297.46 219.06,298.58 219.77,299.67 220.47,300.74 221.17,301.77 221.88,302.78 222.58,303.76 223.29,304.71 223.99,305.63 224.7,306.52 225.4,307.39 226.1,308.23 226.81,309.03 227.51,309.82 228.22,310.57 228.92,311.29 229.63,311.99 230.33,312.66 231.04,313.3 231.74,313.91 232.44,314.49 233.15,315.05 233.85,315.57 234.56,316.07 235.26,316.54 235.97,316.99 236.67,317.4" fill="none" stroke="#2f9a3d" stroke-width="1.45"/>
<circle cx="46.5" cy="317.4" r="2.75" fill="#e0292d" stroke="#3a3a3a" stroke-width="0.45"/>
<circle cx="67.63" cy="313.3" r="2.75" fill="#e0292d" stroke="#3a3a3a" stroke-width="0.45"/>
<circle cx="88.76" cy="281.3" r="2.75" fill="#e0292d" stroke="#3a3a3a" stroke-width="0.45"/>
<circle cx="109.89" cy="191.7" r="2.75" fill="#e0292d" stroke="#3a3a3a" stroke-width="0.45"/>
<circle cx="131.02" cy="297.8" r="2.75" fill="#e0292d" stroke="#3a3a3a" stroke-width="0.45"/>
<circle cx="152.15" cy="293.7" r="2.75" fill="#e0292d" stroke="#3a3a3a" stroke-width="0.45"/>
<circle cx="173.28" cy="195.3" r="2.75" fill="#e0292d" stroke="#3a3a3a" stroke-width="0.45"/>
<circle cx="194.41" cy="283.2" r="2.75" fill="#e0292d" stroke="#3a3a3a" stroke-width="0.45"/>
<circle cx="215.54" cy="312.8" r="2.75" fill="#e0292d" stroke="#3a3a3a" stroke-width="0.45"/>
<circle cx="236.67" cy="317.4" r="2.75" fill="#e0292d" stroke="#3a3a3a" stroke-width="0.45"/>
<circle cx="46.5" cy="317.4" r="2.75" fill="#2b8a3e" stroke="#3a3a3a" stroke-width="0.45"/>
<circle cx="67.63" cy="301.2" r="2.75" fill="#2b8a3e" stroke="#3a3a3a" stroke-width="0.45"/>
<circle cx="88.76" cy="270.3" r="2.75" fill="#2b8a3e" stroke="#3a3a3a" stroke-width="0.45"/>
<circle cx="109.89" cy="244.9" r="2.75" fill="#2b8a3e" stroke="#3a3a3a" stroke-width="0.45"/>
<circle cx="131.02" cy="228.8" r="2.75" fill="#2b8a3e" stroke="#3a3a3a" stroke-width="0.45"/>
<circle cx="152.15" cy="221.4" r="2.75" fill="#2b8a3e" stroke="#3a3a3a" stroke-width="0.45"/>
<circle cx="173.28" cy="233.7" r="2.75" fill="#2b8a3e" stroke="#3a3a3a" stroke-width="0.45"/>
<circle cx="194.41" cy="250.6" r="2.75" fill="#2b8a3e" stroke="#3a3a3a" stroke-width="0.45"/>
<circle cx="215.54" cy="292.7" r="2.75" fill="#2b8a3e" stroke="#3a3a3a" stroke-width="0.45"/>
<circle cx="236.67" cy="317.4" r="2.75" fill="#2b8a3e" stroke="#3a3a3a" stroke-width="0.45"/>
<text x="35.2" y="320.3" font-size="8.2" text-anchor="end" font-weight="normal" fill="#2a2a2a" >0.00</text>
<text x="35.2" y="300.1" font-size="8.2" text-anchor="end" font-weight="normal" fill="#2a2a2a" >0.05</text>
<text x="35.2" y="279.9" font-size="8.2" text-anchor="end" font-weight="normal" fill="#2a2a2a" >0.10</text>
<text x="35.2" y="259.7" font-size="8.2" text-anchor="end" font-weight="normal" fill="#2a2a2a" >0.15</text>
<text x="35.2" y="239.5" font-size="8.2" text-anchor="end" font-weight="normal" fill="#2a2a2a" >0.20</text>
<text x="35.2" y="219.3" font-size="8.2" text-anchor="end" font-weight="normal" fill="#2a2a2a" >0.25</text>
<text x="35.2" y="199.1" font-size="8.2" text-anchor="end" font-weight="normal" fill="#2a2a2a" >0.30</text>
<text x="41.8" y="200.2" font-size="8.7" text-anchor="start" font-weight="bold" fill="#111" >HZO Strain-0%</text>
<rect x="201.2" y="188.4" width="42.2" height="20.1" rx="1.5" fill="#fff" stroke="#e4e4e4" stroke-width="0.7"/>
<line x1="203.1" y1="193.3" x2="216.8" y2="193.3" stroke="#e3312f" stroke-width="1.4"/>
<text x="221.4" y="195.57" font-size="6.3" text-anchor="start" font-weight="normal" fill="#222" >T-Path</text>
<line x1="203.1" y1="202.6" x2="216.8" y2="202.6" stroke="#2f9a3d" stroke-width="1.4"/>
<text x="221.4" y="204.87" font-size="6.3" text-anchor="start" font-weight="normal" fill="#222" >N-Path</text>
<text x="141.6" y="331.6" font-size="9.4" text-anchor="middle" font-weight="normal" fill="#222" >Reaction Coordinates</text>
<text transform="translate(16,254.2) rotate(-90)" font-size="9.3" text-anchor="middle" fill="#222">Energy Barrier (eV)</text>
<rect x="37.5" y="340.6" width="208.2" height="137.4" fill="none" stroke="#9c9c9c" stroke-width="1"/>
<polyline points="46.5,470.6 46.91,470.19 47.31,469.79 47.72,469.41 48.12,469.05 48.53,468.72 48.93,468.4 49.34,468.12 49.74,467.87 50.15,467.66 50.55,467.48 50.96,467.32 51.36,467.16 51.77,467.01 52.17,466.87 52.58,466.74 52.98,466.62 53.39,466.53 53.79,466.46 54.2,466.42 54.6,466.4 55.01,466.41 55.41,466.44 55.82,466.49 56.22,466.56 56.63,466.64 57.03,466.73 57.44,466.83 57.84,466.95 58.25,467.06 58.65,467.19 59.06,467.31 59.46,467.44 59.87,467.56 60.27,467.69 60.68,467.83 61.08,467.99 61.49,468.17 61.89,468.36 62.3,468.55 62.71,468.75 63.11,468.95 63.52,469.15 63.92,469.34 64.33,469.52 64.73,469.7 65.14,469.91 65.54,470.13 65.95,470.35 66.35,470.56 66.76,470.74 67.16,470.88 67.57,470.97 67.97,471 68.38,470.97 68.78,470.89 69.19,470.78 69.59,470.65 70,470.48 70.4,470.3 70.81,470.1 71.21,469.9 71.62,469.69 72.02,469.49 72.43,469.28 72.83,469.05 73.24,468.8 73.64,468.54 74.05,468.25 74.45,467.95 74.86,467.64 75.26,467.3 75.67,466.95 76.07,466.59 76.48,466.21 76.88,465.82 77.29,465.41 77.69,464.98 78.1,464.52 78.51,464.02 78.91,463.5 79.32,462.95 79.72,462.37 80.13,461.76 80.53,461.13 80.94,460.48 81.34,459.81 81.75,459.12 82.15,458.41 82.56,457.68 82.96,456.94 83.37,456.19 83.77,455.42 84.18,454.64 84.58,453.85 84.99,453.02 85.39,452.17 85.8,451.27 86.2,450.34 86.61,449.38 87.01,448.37 87.42,447.32 87.82,446.23 88.23,445.09 88.63,443.9 89.04,442.63 89.44,441.26 89.85,439.8 90.25,438.26 90.66,436.65 91.06,434.98 91.47,433.27 91.87,431.52 92.28,429.74 92.68,427.96 93.09,426.16 93.49,424.38 93.9,422.61 94.31,420.88 94.71,419.18 95.12,417.53 95.52,415.88 95.93,414.22 96.33,412.54 96.74,410.86 97.14,409.18 97.55,407.51 97.95,405.86 98.36,404.23 98.76,402.64 99.17,401.07 99.57,399.55 99.98,398.08 100.38,396.63 100.79,395.17 101.19,393.71 101.6,392.25 102,390.82 102.41,389.42 102.81,388.07 103.22,386.77 103.62,385.54 104.03,384.38 104.43,383.32 104.84,382.35 105.24,381.47 105.65,380.58 106.05,379.68 106.46,378.79 106.86,377.93 107.27,377.13 107.67,376.41 108.08,375.77 108.48,375.26 108.89,374.88 109.29,374.65 109.7,374.61 110.11,374.75 110.51,375.05 110.92,375.48 111.32,376.01 111.73,376.59 112.13,377.21 112.54,378.08 112.94,379.22 113.35,380.58 113.75,382.13 114.16,383.81 114.56,385.59 114.97,387.42 115.37,389.25 115.78,391.05 116.18,392.77 116.59,394.54 116.99,396.37 117.4,398.25 117.8,400.18 118.21,402.16 118.61,404.17 119.02,406.21 119.42,408.29 119.83,410.39 120.23,412.53 120.64,414.71 121.04,416.94 121.45,419.19 121.85,421.48 122.26,423.8 122.66,426.15 123.07,428.51 123.47,430.9 123.88,433.3 124.28,435.72 124.69,438.14 125.09,440.58 125.5,443.16 125.91,445.9 126.31,448.72 126.72,451.53 127.12,454.27 127.53,456.86 127.93,459.21 128.34,461.27 128.74,463.05 129.15,464.86 129.55,466.57 129.96,468 130.36,468.97 130.77,469.31 131.17,469.4 131.58,469.47 131.98,469.54 132.39,469.61 132.79,469.66 133.2,469.72 133.6,469.76 134.01,469.81 134.41,469.85 134.82,469.88 135.22,469.91 135.63,469.94 136.03,469.97 136.44,469.99 136.84,470.02 137.25,470.04 137.65,470.05 138.06,470.07 138.46,470.09 138.87,470.1 139.27,470.12 139.68,470.14 140.08,470.16 140.49,470.17 140.89,470.19 141.3,470.22 141.71,470.24 142.11,470.26 142.52,470.28 142.92,470.3 143.33,470.32 143.73,470.34 144.14,470.37 144.54,470.39 144.95,470.41 145.35,470.43 145.76,470.44 146.16,470.46 146.57,470.48 146.97,470.5 147.38,470.51 147.78,470.53 148.19,470.54 148.59,470.55 149,470.56 149.4,470.57 149.81,470.58 150.21,470.59 150.62,470.59 151.02,470.6 151.43,470.6 151.83,470.54 152.24,469.77 152.64,468.32 153.05,466.44 153.45,464.43 153.86,462.57 154.26,461 154.67,459.48 155.07,457.98 155.48,456.5 155.88,455.02 156.29,453.54 156.69,452.06 157.1,450.57 157.51,449.07 157.91,447.55 158.32,446 158.72,444.42 159.13,442.81 159.53,441.16 159.94,439.46 160.34,437.71 160.75,435.9 161.15,434.03 161.56,432.07 161.96,429.98 162.37,427.79 162.77,425.51 163.18,423.15 163.58,420.73 163.99,418.26 164.39,415.76 164.8,413.25 165.2,410.74 165.61,408.24 166.01,405.78 166.42,403.36 166.82,401.01 167.23,398.69 167.63,396.29 168.04,393.84 168.44,391.43 168.85,389.14 169.25,387.02 169.66,385.17 170.06,383.56 170.47,381.93 170.87,380.34 171.28,378.86 171.68,377.57 172.09,376.54 172.49,375.85 172.9,375.56 173.31,375.41 173.71,375.28 174.12,375.17 174.52,375.09 174.93,375.03 175.33,375 175.74,375.03 176.14,375.23 176.55,375.58 176.95,376.06 177.36,376.64 177.76,377.29 178.17,377.99 178.57,378.74 178.98,379.77 179.38,381.1 179.79,382.71 180.19,384.55 180.6,386.59 181,388.78 181.41,391.1 181.81,393.49 182.22,395.93 182.62,398.38 183.03,400.8 183.43,403.15 183.84,405.4 184.24,407.5 184.65,409.42 185.05,411.28 185.46,413.14 185.86,415.01 186.27,416.86 186.67,418.7 187.08,420.52 187.48,422.29 187.89,424.03 188.29,425.71 188.7,427.33 189.11,428.88 189.51,430.34 189.92,431.72 190.32,433.01 190.73,434.22 191.13,435.37 191.54,436.46 191.94,437.51 192.35,438.54 192.75,439.55 193.16,440.55 193.56,441.57 193.97,442.61 194.37,443.68 194.78,444.77 195.18,445.88 195.59,446.99 195.99,448.1 196.4,449.21 196.8,450.32 197.21,451.4 197.61,452.47 198.02,453.51 198.42,454.51 198.83,455.48 199.23,456.4 199.64,457.27 200.04,458.09 200.45,458.87 200.85,459.65 201.26,460.41 201.66,461.16 202.07,461.88 202.47,462.57 202.88,463.23 203.28,463.86 203.69,464.44 204.09,464.98 204.5,465.47 204.91,465.91 205.31,466.3 205.72,466.68 206.12,467.04 206.53,467.38 206.93,467.71 207.34,468.02 207.74,468.31 208.15,468.58 208.55,468.83 208.96,469.05 209.36,469.25 209.77,469.41 210.17,469.56 210.58,469.7 210.98,469.83 211.39,469.96 211.79,470.09 212.2,470.2 212.6,470.31 213.01,470.4 213.41,470.48 213.82,470.54 214.22,470.58 214.63,470.6 215.03,470.58 215.44,470.47 215.84,470.28 216.25,470.02 216.65,469.7 217.06,469.34 217.46,468.96 217.87,468.57 218.27,468.19 218.68,467.83 219.08,467.51 219.49,467.24 219.89,467.04 220.3,466.9 220.71,466.76 221.11,466.63 221.52,466.5 221.92,466.37 222.33,466.25 222.73,466.13 223.14,466.02 223.54,465.91 223.95,465.82 224.35,465.73 224.76,465.65 225.16,465.58 225.57,465.52 225.97,465.47 226.38,465.44 226.78,465.41 227.19,465.4 227.59,465.41 228,465.48 228.4,465.58 228.81,465.72 229.21,465.9 229.62,466.1 230.02,466.32 230.43,466.56 230.83,466.8 231.24,467.05 231.64,467.29 232.05,467.53 232.45,467.77 232.86,468.03 233.26,468.3 233.67,468.59 234.07,468.9 234.48,469.22 234.88,469.55 235.29,469.89 235.69,470.24 236.1,470.6" fill="none" stroke="#e3312f" stroke-width="1.45" stroke-dasharray="4.4,2.3"/>
<polyline points="46.5,470.6 47.2,470.64 47.91,470.67 48.61,470.71 49.32,470.75 50.02,470.78 50.73,470.82 51.43,470.86 52.13,470.89 52.84,470.93 53.54,470.97 54.25,471 54.95,471.04 55.66,471.08 56.36,471.11 57.06,471.15 57.77,471.19 58.47,471.22 59.18,471.26 59.88,471.3 60.59,471.33 61.29,471.37 62,471.41 62.7,471.44 63.4,471.48 64.11,471.52 64.81,471.55 65.52,471.59 66.22,471.63 66.93,471.66 67.63,471.7 68.33,471.72 69.04,471.74 69.74,471.76 70.45,471.78 71.15,471.8 71.86,471.82 72.56,471.84 73.26,471.85 73.97,471.87 74.67,471.88 75.38,471.89 76.08,471.9 76.79,471.92 77.49,471.93 78.19,471.94 78.9,471.92 79.6,471.85 80.31,471.73 81.01,471.57 81.72,471.35 82.42,471.08 83.13,470.76 83.83,470.39 84.53,469.97 85.24,469.5 85.94,468.98 86.65,468.41 87.35,467.79 88.06,467.12 88.76,466.4 89.46,465.63 90.17,464.81 90.87,463.93 91.58,463.01 92.28,462.04 92.99,461.01 93.69,459.94 94.39,458.81 95.1,457.64 95.8,456.41 96.51,455.14 97.21,453.81 97.92,452.44 98.62,451.01 99.32,449.53 100.03,448.04 100.73,446.57 101.44,445.12 102.14,443.7 102.85,442.29 103.55,440.9 104.26,439.54 104.96,438.2 105.66,436.88 106.37,435.58 107.07,434.3 107.78,433.04 108.48,431.81 109.19,430.59 109.89,429.4 110.59,428.23 111.3,427.08 112,425.95 112.71,424.84 113.41,423.75 114.12,422.69 114.82,421.65 115.52,420.62 116.23,419.62 116.93,418.64 117.64,417.68 118.34,416.75 119.05,415.83 119.75,414.94 120.45,414.06 121.16,413.21 121.86,412.39 122.57,411.58 123.27,410.8 123.98,410.05 124.68,409.32 125.39,408.61 126.09,407.92 126.79,407.26 127.5,406.63 128.2,406.01 128.91,405.42 129.61,404.86 130.32,404.32 131.02,403.8 131.72,403.31 132.43,402.84 133.13,402.39 133.84,401.97 134.54,401.57 135.25,401.19 135.95,400.84 136.65,400.51 137.36,400.21 138.06,399.93 138.77,399.67 139.47,399.44 140.18,399.23 140.88,399.05 141.58,398.89 142.29,398.74 142.99,398.61 143.7,398.49 144.4,398.39 145.11,398.29 145.81,398.21 146.52,398.14 147.22,398.08 147.92,398.03 148.63,398 149.33,397.97 150.04,397.96 150.74,397.96 151.45,397.98 152.15,398 152.85,398.04 153.56,398.09 154.26,398.15 154.97,398.22 155.67,398.31 156.38,398.4 157.08,398.51 157.78,398.63 158.49,398.77 159.19,398.91 159.9,399.07 160.6,399.24 161.31,399.42 162.01,399.61 162.71,399.82 163.42,400.05 164.12,400.31 164.83,400.61 165.53,400.95 166.24,401.32 166.94,401.73 167.65,402.17 168.35,402.65 169.05,403.16 169.76,403.71 170.46,404.3 171.17,404.92 171.87,405.58 172.58,406.27 173.28,407 173.98,407.76 174.69,408.56 175.39,409.4 176.1,410.27 176.8,411.18 177.51,412.12 178.21,413.1 178.91,414.11 179.62,415.16 180.32,416.25 181.03,417.37 181.73,418.53 182.44,419.72 183.14,420.95 183.84,422.21 184.55,423.49 185.25,424.77 185.96,426.03 186.66,427.3 187.37,428.55 188.07,429.8 188.78,431.05 189.48,432.29 190.18,433.52 190.89,434.75 191.59,435.97 192.3,437.19 193,438.4 193.71,439.6 194.41,440.8 195.11,441.99 195.82,443.18 196.52,444.36 197.23,445.54 197.93,446.71 198.64,447.88 199.34,449.03 200.04,450.19 200.75,451.34 201.45,452.48 202.16,453.61 202.86,454.75 203.57,455.87 204.27,456.99 204.97,458.1 205.68,459.2 206.38,460.25 207.09,461.27 207.79,462.25 208.5,463.19 209.2,464.1 209.91,464.97 210.61,465.81 211.31,466.6 212.02,467.36 212.72,468.08 213.43,468.77 214.13,469.42 214.84,470.03 215.54,470.6 216.24,470.6 216.95,470.6 217.65,470.6 218.36,470.6 219.06,470.6 219.77,470.6 220.47,470.6 221.17,470.6 221.88,470.6 222.58,470.6 223.29,470.6 223.99,470.6 224.7,470.6 225.4,470.6 226.1,470.6 226.81,470.6 227.51,470.6 228.22,470.6 228.92,470.6 229.63,470.6 230.33,470.6 231.04,470.6 231.74,470.6 232.44,470.6 233.15,470.6 233.85,470.6 234.56,470.6 235.26,470.6 235.97,470.6 236.67,470.6" fill="none" stroke="#2f9a3d" stroke-width="1.45" stroke-dasharray="4.4,2.3"/>
<polyline points="46.5,470.6 47.2,470.64 47.91,470.67 48.61,470.71 49.32,470.75 50.02,470.78 50.73,470.82 51.43,470.86 52.13,470.89 52.84,470.93 53.54,470.97 54.25,471 54.95,471.04 55.66,471.08 56.36,471.11 57.06,471.15 57.77,471.19 58.47,471.22 59.18,471.26 59.88,471.3 60.59,471.33 61.29,471.37 62,471.41 62.7,471.44 63.4,471.48 64.11,471.52 64.81,471.55 65.52,471.59 66.22,471.63 66.93,471.66 67.63,471.7 68.33,471.17 69.04,470.6 69.74,470 70.45,469.36 71.15,468.68 71.86,467.96 72.56,467.21 73.26,466.42 73.97,465.6 74.67,464.74 75.38,463.84 76.08,462.91 76.79,461.94 77.49,460.93 78.19,459.88 78.9,458.79 79.6,457.64 80.31,456.42 81.01,455.14 81.72,453.8 82.42,452.4 83.13,450.93 83.83,449.41 84.53,447.82 85.24,446.17 85.94,444.46 86.65,442.69 87.35,440.85 88.06,438.96 88.76,437 89.46,434.98 90.17,432.9 90.87,430.76 91.58,428.55 92.28,426.29 92.99,423.96 93.69,421.57 94.39,419.12 95.1,416.6 95.8,414.03 96.51,411.39 97.21,408.69 97.92,405.93 98.62,403.11 99.32,400.23 100.03,397.38 100.73,394.69 101.44,392.13 102.14,389.73 102.85,387.46 103.55,385.34 104.26,383.37 104.96,381.54 105.66,379.86 106.37,378.32 107.07,376.93 107.78,375.68 108.48,374.57 109.19,373.61 109.89,372.8 110.59,372.13 111.3,371.61 112,371.23 112.71,370.99 113.41,370.9 114.12,370.95 114.82,371.15 115.52,371.5 116.23,371.99 116.93,372.62 117.64,373.4 118.34,374.32 119.05,375.39 119.75,376.61 120.45,377.96 121.16,379.33 121.86,380.58 122.57,381.71 123.27,382.71 123.98,383.59 124.68,384.35 125.39,384.99 126.09,385.51 126.79,385.9 127.5,386.17 128.2,386.32 128.91,386.35 129.61,386.25 130.32,386.04 131.02,385.7 131.72,385.24 132.43,384.66 133.13,383.95 133.84,383.13 134.54,382.18 135.25,381.11 135.95,379.92 136.65,378.6 137.36,377.17 138.06,375.61 138.77,373.93 139.47,372.13 140.18,370.2 140.88,368.16 141.58,365.99 142.29,363.83 142.99,361.8 143.7,359.9 144.4,358.14 145.11,356.51 145.81,355.01 146.52,353.64 147.22,352.41 147.92,351.31 148.63,350.34 149.33,349.51 150.04,348.81 150.74,348.24 151.45,347.8 152.15,347.5 152.85,347.33 153.56,347.29 154.26,347.39 154.97,347.62 155.67,347.98 156.38,348.47 157.08,349.1 157.78,349.86 158.49,350.75 159.19,351.78 159.9,352.93 160.6,354.23 161.31,355.65 162.01,357.21 162.71,358.9 163.42,360.67 164.12,362.48 164.83,364.33 165.53,366.22 166.24,368.14 166.94,370.1 167.65,372.09 168.35,374.13 169.05,376.2 169.76,378.31 170.46,380.45 171.17,382.63 171.87,384.85 172.58,387.11 173.28,389.4 173.98,391.73 174.69,394.1 175.39,396.5 176.1,398.94 176.8,401.42 177.51,403.94 178.21,406.49 178.91,409.08 179.62,411.7 180.32,414.37 181.03,417.07 181.73,419.8 182.44,422.58 183.14,425.39 183.84,428.24 184.55,431.06 185.25,433.78 185.96,436.41 186.66,438.94 187.37,441.37 188.07,443.71 188.78,445.95 189.48,448.09 190.18,450.14 190.89,452.09 191.59,453.94 192.3,455.7 193,457.36 193.71,458.93 194.41,460.4 195.11,461.77 195.82,463.05 196.52,464.23 197.23,465.31 197.93,466.3 198.64,467.19 199.34,467.99 200.04,468.69 200.75,469.29 201.45,469.79 202.16,470.2 202.86,470.52 203.57,470.73 204.27,470.85 204.97,470.88 205.68,470.85 206.38,470.83 207.09,470.81 207.79,470.78 208.5,470.76 209.2,470.74 209.91,470.72 210.61,470.71 211.31,470.69 212.02,470.67 212.72,470.66 213.43,470.64 214.13,470.63 214.84,470.61 215.54,470.6 216.24,470.6 216.95,470.6 217.65,470.6 218.36,470.6 219.06,470.6 219.77,470.6 220.47,470.6 221.17,470.6 221.88,470.6 222.58,470.6 223.29,470.6 223.99,470.6 224.7,470.6 225.4,470.6 226.1,470.6 226.81,470.6 227.51,470.6 228.22,470.6 228.92,470.6 229.63,470.6 230.33,470.6 231.04,470.6 231.74,470.6 232.44,470.6 233.15,470.6 233.85,470.6 234.56,470.6 235.26,470.6 235.97,470.6 236.67,470.6" fill="none" stroke="#e3312f" stroke-width="1.45"/>
<polyline points="46.5,470.6 47.2,470.64 47.91,470.67 48.61,470.71 49.32,470.75 50.02,470.78 50.73,470.82 51.43,470.86 52.13,470.89 52.84,470.93 53.54,470.97 54.25,471 54.95,471.04 55.66,471.08 56.36,471.11 57.06,471.15 57.77,471.19 58.47,471.22 59.18,471.26 59.88,471.3 60.59,471.33 61.29,471.37 62,471.41 62.7,471.44 63.4,471.48 64.11,471.52 64.81,471.55 65.52,471.59 66.22,471.63 66.93,471.66 67.63,471.7 68.33,471.39 69.04,471.06 69.74,470.7 70.45,470.33 71.15,469.93 71.86,469.5 72.56,469.06 73.26,468.59 73.97,468.1 74.67,467.59 75.38,467.06 76.08,466.5 76.79,465.93 77.49,465.32 78.19,464.7 78.9,464.05 79.6,463.35 80.31,462.6 81.01,461.82 81.72,460.99 82.42,460.11 83.13,459.2 83.83,458.24 84.53,457.23 85.24,456.19 85.94,455.1 86.65,453.96 87.35,452.78 88.06,451.56 88.76,450.3 89.46,448.99 90.17,447.64 90.87,446.25 91.58,444.81 92.28,443.33 92.99,441.8 93.69,440.23 94.39,438.62 95.1,436.97 95.8,435.27 96.51,433.53 97.21,431.74 97.92,429.91 98.62,428.04 99.32,426.13 100.03,424.22 100.73,422.37 101.44,420.58 102.14,418.85 102.85,417.19 103.55,415.58 104.26,414.03 104.96,412.54 105.66,411.11 106.37,409.75 107.07,408.44 107.78,407.19 108.48,406 109.19,404.87 109.89,403.8 110.59,402.79 111.3,401.84 112,400.95 112.71,400.12 113.41,399.35 114.12,398.64 114.82,397.99 115.52,397.4 116.23,396.87 116.93,396.4 117.64,395.99 118.34,395.64 119.05,395.35 119.75,395.12 120.45,394.95 121.16,394.81 121.86,394.67 122.57,394.53 123.27,394.4 123.98,394.27 124.68,394.14 125.39,394.02 126.09,393.89 126.79,393.77 127.5,393.65 128.2,393.54 128.91,393.43 129.61,393.31 130.32,393.21 131.02,393.1 131.72,393 132.43,392.9 133.13,392.8 133.84,392.7 134.54,392.61 135.25,392.51 135.95,392.43 136.65,392.34 137.36,392.25 138.06,392.17 138.77,392.09 139.47,392.02 140.18,391.94 140.88,391.87 141.58,391.8 142.29,391.74 142.99,391.68 143.7,391.64 144.4,391.6 145.11,391.57 145.81,391.55 146.52,391.54 147.22,391.54 147.92,391.55 148.63,391.57 149.33,391.6 150.04,391.64 150.74,391.68 151.45,391.74 152.15,391.8 152.85,391.87 153.56,391.96 154.26,392.05 154.97,392.15 155.67,392.26 156.38,392.37 157.08,392.5 157.78,392.64 158.49,392.78 159.19,392.94 159.9,393.1 160.6,393.28 161.31,393.46 162.01,393.65 162.71,393.85 163.42,394.09 164.12,394.38 164.83,394.74 165.53,395.16 166.24,395.64 166.94,396.18 167.65,396.78 168.35,397.45 169.05,398.17 169.76,398.96 170.46,399.8 171.17,400.71 171.87,401.68 172.58,402.71 173.28,403.8 173.98,404.95 174.69,406.16 175.39,407.44 176.1,408.77 176.8,410.17 177.51,411.63 178.21,413.14 178.91,414.72 179.62,416.36 180.32,418.07 181.03,419.83 181.73,421.65 182.44,423.54 183.14,425.48 183.84,427.49 184.55,429.5 185.25,431.46 185.96,433.37 186.66,435.22 187.37,437.02 188.07,438.78 188.78,440.48 189.48,442.12 190.18,443.72 190.89,445.26 191.59,446.75 192.3,448.19 193,449.58 193.71,450.92 194.41,452.2 195.11,453.43 195.82,454.61 196.52,455.74 197.23,456.82 197.93,457.84 198.64,458.81 199.34,459.73 200.04,460.6 200.75,461.41 201.45,462.18 202.16,462.89 202.86,463.55 203.57,464.16 204.27,464.72 204.97,465.22 205.68,465.69 206.38,466.14 207.09,466.58 207.79,467.01 208.5,467.41 209.2,467.8 209.91,468.18 210.61,468.54 211.31,468.88 212.02,469.21 212.72,469.52 213.43,469.81 214.13,470.09 214.84,470.35 215.54,470.6 216.24,470.6 216.95,470.6 217.65,470.6 218.36,470.6 219.06,470.6 219.77,470.6 220.47,470.6 221.17,470.6 221.88,470.6 222.58,470.6 223.29,470.6 223.99,470.6 224.7,470.6 225.4,470.6 226.1,470.6 226.81,470.6 227.51,470.6 228.22,470.6 228.92,470.6 229.63,470.6 230.33,470.6 231.04,470.6 231.74,470.6 232.44,470.6 233.15,470.6 233.85,470.6 234.56,470.6 235.26,470.6 235.97,470.6 236.67,470.6" fill="none" stroke="#2f9a3d" stroke-width="1.45"/>
<circle cx="46.5" cy="470.6" r="2.75" fill="#e0292d" stroke="#3a3a3a" stroke-width="0.45"/>
<circle cx="67.63" cy="471.7" r="2.75" fill="#e0292d" stroke="#3a3a3a" stroke-width="0.45"/>
<circle cx="88.76" cy="444" r="2.75" fill="#e0292d" stroke="#3a3a3a" stroke-width="0.45"/>
<circle cx="109.89" cy="374.6" r="2.75" fill="#e0292d" stroke="#3a3a3a" stroke-width="0.45"/>
<circle cx="131.02" cy="469.3" r="2.75" fill="#e0292d" stroke="#3a3a3a" stroke-width="0.45"/>
<circle cx="152.15" cy="470.6" r="2.75" fill="#e0292d" stroke="#3a3a3a" stroke-width="0.45"/>
<circle cx="173.28" cy="375.6" r="2.75" fill="#e0292d" stroke="#3a3a3a" stroke-width="0.45"/>
<circle cx="194.41" cy="442.7" r="2.75" fill="#e0292d" stroke="#3a3a3a" stroke-width="0.45"/>
<circle cx="215.54" cy="470.6" r="2.75" fill="#e0292d" stroke="#3a3a3a" stroke-width="0.45"/>
<circle cx="236.67" cy="470.6" r="2.75" fill="#e0292d" stroke="#3a3a3a" stroke-width="0.45"/>
<circle cx="46.5" cy="470.6" r="2.75" fill="#2b8a3e" stroke="#3a3a3a" stroke-width="0.45"/>
<circle cx="67.63" cy="471.7" r="2.75" fill="#2b8a3e" stroke="#3a3a3a" stroke-width="0.45"/>
<circle cx="88.76" cy="466.4" r="2.75" fill="#2b8a3e" stroke="#3a3a3a" stroke-width="0.45"/>
<circle cx="109.89" cy="429.4" r="2.75" fill="#2b8a3e" stroke="#3a3a3a" stroke-width="0.45"/>
<circle cx="131.02" cy="403.8" r="2.75" fill="#2b8a3e" stroke="#3a3a3a" stroke-width="0.45"/>
<circle cx="152.15" cy="398" r="2.75" fill="#2b8a3e" stroke="#3a3a3a" stroke-width="0.45"/>
<circle cx="173.28" cy="407" r="2.75" fill="#2b8a3e" stroke="#3a3a3a" stroke-width="0.45"/>
<circle cx="194.41" cy="440.8" r="2.75" fill="#2b8a3e" stroke="#3a3a3a" stroke-width="0.45"/>
<circle cx="215.54" cy="470.6" r="2.75" fill="#2b8a3e" stroke="#3a3a3a" stroke-width="0.45"/>
<circle cx="236.67" cy="470.6" r="2.75" fill="#2b8a3e" stroke="#3a3a3a" stroke-width="0.45"/>
<circle cx="46.5" cy="470.6" r="2.75" fill="#e0292d" stroke="#3a3a3a" stroke-width="0.45"/>
<circle cx="67.63" cy="471.7" r="2.75" fill="#e0292d" stroke="#3a3a3a" stroke-width="0.45"/>
<circle cx="88.76" cy="437" r="2.75" fill="#e0292d" stroke="#3a3a3a" stroke-width="0.45"/>
<circle cx="109.89" cy="372.8" r="2.75" fill="#e0292d" stroke="#3a3a3a" stroke-width="0.45"/>
<circle cx="131.02" cy="385.7" r="2.75" fill="#e0292d" stroke="#3a3a3a" stroke-width="0.45"/>
<circle cx="152.15" cy="347.5" r="2.75" fill="#e0292d" stroke="#3a3a3a" stroke-width="0.45"/>
<circle cx="173.28" cy="389.4" r="2.75" fill="#e0292d" stroke="#3a3a3a" stroke-width="0.45"/>
<circle cx="194.41" cy="460.4" r="2.75" fill="#e0292d" stroke="#3a3a3a" stroke-width="0.45"/>
<circle cx="215.54" cy="470.6" r="2.75" fill="#e0292d" stroke="#3a3a3a" stroke-width="0.45"/>
<circle cx="236.67" cy="470.6" r="2.75" fill="#e0292d" stroke="#3a3a3a" stroke-width="0.45"/>
<circle cx="46.5" cy="470.6" r="2.75" fill="#2b8a3e" stroke="#3a3a3a" stroke-width="0.45"/>
<circle cx="67.63" cy="471.7" r="2.75" fill="#2b8a3e" stroke="#3a3a3a" stroke-width="0.45"/>
<circle cx="88.76" cy="450.3" r="2.75" fill="#2b8a3e" stroke="#3a3a3a" stroke-width="0.45"/>
<circle cx="109.89" cy="403.8" r="2.75" fill="#2b8a3e" stroke="#3a3a3a" stroke-width="0.45"/>
<circle cx="131.02" cy="393.1" r="2.75" fill="#2b8a3e" stroke="#3a3a3a" stroke-width="0.45"/>
<circle cx="152.15" cy="391.8" r="2.75" fill="#2b8a3e" stroke="#3a3a3a" stroke-width="0.45"/>
<circle cx="173.28" cy="403.8" r="2.75" fill="#2b8a3e" stroke="#3a3a3a" stroke-width="0.45"/>
<circle cx="194.41" cy="452.2" r="2.75" fill="#2b8a3e" stroke="#3a3a3a" stroke-width="0.45"/>
<circle cx="215.54" cy="470.6" r="2.75" fill="#2b8a3e" stroke="#3a3a3a" stroke-width="0.45"/>
<circle cx="236.67" cy="470.6" r="2.75" fill="#2b8a3e" stroke="#3a3a3a" stroke-width="0.45"/>
<text x="35.2" y="473.7" font-size="8.2" text-anchor="end" font-weight="normal" fill="#2a2a2a" >0.0</text>
<text x="35.2" y="445.2" font-size="8.2" text-anchor="end" font-weight="normal" fill="#2a2a2a" >0.1</text>
<text x="35.2" y="416.7" font-size="8.2" text-anchor="end" font-weight="normal" fill="#2a2a2a" >0.2</text>
<text x="35.2" y="388.2" font-size="8.2" text-anchor="end" font-weight="normal" fill="#2a2a2a" >0.3</text>
<text x="35.2" y="359.7" font-size="8.2" text-anchor="end" font-weight="normal" fill="#2a2a2a" >0.4</text>
<text x="42.1" y="354.6" font-size="8.7" text-anchor="start" font-weight="bold" fill="#111" >HZO Strain( +/-1%)</text>
<rect x="183.8" y="343.8" width="58.6" height="37.7" rx="1.5" fill="#fff" stroke="#e4e4e4" stroke-width="0.7"/>
<line x1="185.5" y1="348.7" x2="199.2" y2="348.7" stroke="#e3312f" stroke-width="1.4" stroke-dasharray="4.4,2.3"/>
<text x="203.8" y="351" font-size="6.4" text-anchor="start" font-weight="normal" fill="#222" >T-Path(+1%)</text>
<line x1="185.5" y1="357.5" x2="199.2" y2="357.5" stroke="#2f9a3d" stroke-width="1.4" stroke-dasharray="4.4,2.3"/>
<text x="203.8" y="359.8" font-size="6.4" text-anchor="start" font-weight="normal" fill="#222" >N-Path(+1%)</text>
<line x1="185.5" y1="366.4" x2="199.2" y2="366.4" stroke="#e3312f" stroke-width="1.4"/>
<text x="203.8" y="368.7" font-size="6.4" text-anchor="start" font-weight="normal" fill="#222" >T-Path(-1%)</text>
<line x1="185.5" y1="375.4" x2="199.2" y2="375.4" stroke="#2f9a3d" stroke-width="1.4"/>
<text x="203.8" y="377.7" font-size="6.4" text-anchor="start" font-weight="normal" fill="#222" >N-Path(-1%)</text>
<text x="141.6" y="486.8" font-size="9.4" text-anchor="middle" font-weight="normal" fill="#222" >Reaction Coordinates</text>
<text transform="translate(20.1,409.8) rotate(-90)" font-size="9.3" text-anchor="middle" fill="#222">Energy Barrier (eV)</text>
<rect x="307.6" y="184.7" width="207.8" height="138.2" fill="none" stroke="#9c9c9c" stroke-width="1"/>
<polyline points="316.3,312.5 317,310.71 317.7,308.93 318.41,307.17 319.11,305.42 319.81,303.69 320.51,301.97 321.21,300.27 321.91,298.58 322.62,296.91 323.32,295.25 324.02,293.61 324.72,291.98 325.42,290.36 326.12,288.76 326.82,287.18 327.53,285.61 328.23,284.06 328.93,282.52 329.63,280.99 330.33,279.48 331.04,277.99 331.74,276.51 332.44,275.04 333.14,273.59 333.84,272.16 334.54,270.74 335.25,269.33 335.95,267.94 336.65,266.56 337.35,265.2 338.05,263.85 338.75,262.52 339.46,261.2 340.16,259.9 340.86,258.62 341.56,257.34 342.26,256.09 342.96,254.84 343.67,253.61 344.37,252.4 345.07,251.2 345.77,250.02 346.47,248.85 347.17,247.7 347.88,246.56 348.58,245.42 349.28,244.28 349.98,243.13 350.68,241.98 351.38,240.81 352.09,239.64 352.79,238.47 353.49,237.28 354.19,236.09 354.89,234.89 355.59,233.69 356.3,232.48 357,231.26 357.7,230.03 358.4,228.8 359.1,227.56 359.8,226.31 360.5,225.06 361.21,223.8 361.91,222.53 362.61,221.26 363.31,219.97 364.01,218.69 364.72,217.39 365.42,216.09 366.12,214.78 366.82,213.46 367.52,212.14 368.22,210.81 368.93,209.47 369.63,208.18 370.33,206.99 371.03,205.91 371.73,204.93 372.43,204.06 373.13,203.29 373.84,202.62 374.54,202.05 375.24,201.59 375.94,201.23 376.64,200.98 377.35,200.83 378.05,200.78 378.75,200.84 379.45,201 380.15,201.26 380.85,201.63 381.56,202.1 382.26,202.68 382.96,203.35 383.66,204.13 384.36,205.02 385.06,206.01 385.76,207.1 386.47,208.29 387.17,209.59 387.87,211 388.57,212.5 389.27,214.11 389.98,215.82 390.68,217.61 391.38,219.45 392.08,221.33 392.78,223.25 393.48,225.23 394.19,227.25 394.89,229.31 395.59,231.42 396.29,233.58 396.99,235.78 397.69,238.04 398.39,240.33 399.1,242.68 399.8,245.06 400.5,247.5 401.2,249.98 401.9,252.51 402.61,255.08 403.31,257.7 404.01,260.37 404.71,263.08 405.41,265.84 406.11,268.65 406.81,271.5 407.52,274.4 408.22,277.34 408.92,280.34 409.62,283.37 410.32,286.46 411.02,289.58 411.73,292.63 412.43,295.46 413.13,298.07 413.83,300.47 414.53,302.65 415.24,304.62 415.94,306.37 416.64,307.9 417.34,309.22 418.04,310.32 418.74,311.21 419.44,311.88 420.15,312.34 420.85,312.58 421.55,312.6 422.25,312.41 422.95,312 423.66,311.38 424.36,310.54 425.06,309.48 425.76,308.21 426.46,306.73 427.16,305.02 427.87,303.11 428.57,300.97 429.27,298.62 429.97,296.06 430.67,293.28 431.37,290.28 432.08,287.07 432.78,283.81 433.48,280.69 434.18,277.71 434.88,274.85 435.58,272.14 436.29,269.55 436.99,267.1 437.69,264.78 438.39,262.6 439.09,260.55 439.79,258.63 440.5,256.85 441.2,255.2 441.9,253.68 442.6,252.3 443.3,251.05 444,249.94 444.71,248.96 445.41,248.11 446.11,247.4 446.81,246.82 447.51,246.37 448.21,246.06 448.92,245.88 449.62,245.83 450.32,245.92 451.02,246.15 451.72,246.5 452.42,246.99 453.12,247.62 453.83,248.29 454.53,248.92 455.23,249.51 455.93,250.07 456.63,250.58 457.34,251.06 458.04,251.5 458.74,251.9 459.44,252.26 460.14,252.58 460.84,252.86 461.55,253.1 462.25,253.31 462.95,253.47 463.65,253.6 464.35,253.69 465.05,253.74 465.75,253.75 466.46,253.72 467.16,253.65 467.86,253.54 468.56,253.4 469.26,253.22 469.97,252.99 470.67,252.73 471.37,252.43 472.07,252.09 472.77,251.71 473.47,251.29 474.18,250.84 474.88,250.4 475.58,250.05 476.28,249.78 476.98,249.59 477.68,249.48 478.38,249.46 479.09,249.51 479.79,249.65 480.49,249.87 481.19,250.17 481.89,250.55 482.6,251.02 483.3,251.56 484,252.19 484.7,252.9 485.4,253.69 486.1,254.56 486.81,255.52 487.51,256.56 488.21,257.67 488.91,258.87 489.61,260.16 490.31,261.52 491.01,262.97 491.72,264.49 492.42,266.1 493.12,267.79 493.82,269.56 494.52,271.42 495.23,273.35 495.93,275.37 496.63,277.47 497.33,279.65 498.03,281.91 498.73,284.26 499.44,286.69 500.14,289.19 500.84,291.78 501.54,294.45 502.24,297.21 502.94,300.04 503.64,302.96 504.35,305.96 505.05,309.04 505.75,312.2" fill="none" stroke="#e3312f" stroke-width="1.45" stroke-dasharray="4.4,2.3"/>
<polyline points="316.3,312.5 317,313.17 317.7,313.78 318.41,314.34 319.11,314.83 319.81,315.28 320.51,315.66 321.21,315.99 321.91,316.26 322.62,316.47 323.32,316.63 324.02,316.73 324.72,316.77 325.42,316.76 326.12,316.69 326.82,316.56 327.53,316.37 328.23,316.13 328.93,315.83 329.63,315.47 330.33,315.06 331.04,314.59 331.74,314.07 332.44,313.48 333.14,312.84 333.84,312.14 334.54,311.39 335.25,310.58 335.95,309.71 336.65,308.78 337.35,307.8 338.05,306.76 338.75,305.66 339.46,304.51 340.16,303.3 340.86,302.03 341.56,300.71 342.26,299.33 342.96,297.89 343.67,296.39 344.37,294.84 345.07,293.23 345.77,291.57 346.47,289.85 347.17,288.07 347.88,286.23 348.58,284.35 349.28,282.46 349.98,280.54 350.68,278.61 351.38,276.65 352.09,274.68 352.79,272.68 353.49,270.67 354.19,268.63 354.89,266.58 355.59,264.5 356.3,262.41 357,260.29 357.7,258.16 358.4,256 359.1,253.82 359.8,251.63 360.5,249.41 361.21,247.18 361.91,244.92 362.61,242.65 363.31,240.35 364.01,238.04 364.72,235.7 365.42,233.35 366.12,230.97 366.82,228.58 367.52,226.16 368.22,223.73 368.93,221.27 369.63,218.86 370.33,216.54 371.03,214.34 371.73,212.23 372.43,210.22 373.13,208.32 373.84,206.52 374.54,204.82 375.24,203.23 375.94,201.73 376.64,200.34 377.35,199.05 378.05,197.87 378.75,196.78 379.45,195.8 380.15,194.92 380.85,194.14 381.56,193.47 382.26,192.9 382.96,192.42 383.66,192.06 384.36,191.79 385.06,191.63 385.76,191.57 386.47,191.61 387.17,191.75 387.87,192 388.57,192.34 389.27,192.79 389.98,193.35 390.68,193.93 391.38,194.48 392.08,194.98 392.78,195.45 393.48,195.88 394.19,196.27 394.89,196.61 395.59,196.92 396.29,197.2 396.99,197.43 397.69,197.62 398.39,197.77 399.1,197.89 399.8,197.96 400.5,198 401.2,198 401.9,197.95 402.61,197.87 403.31,197.75 404.01,197.59 404.71,197.39 405.41,197.16 406.11,196.88 406.81,196.56 407.52,196.21 408.22,195.81 408.92,195.38 409.62,194.91 410.32,194.4 411.02,193.85 411.73,193.3 412.43,192.81 413.13,192.38 413.83,192 414.53,191.68 415.24,191.42 415.94,191.2 416.64,191.05 417.34,190.95 418.04,190.9 418.74,190.91 419.44,190.97 420.15,191.09 420.85,191.27 421.55,191.5 422.25,191.79 422.95,192.13 423.66,192.52 424.36,192.97 425.06,193.48 425.76,194.04 426.46,194.66 427.16,195.33 427.87,196.06 428.57,196.84 429.27,197.68 429.97,198.57 430.67,199.52 431.37,200.52 432.08,201.58 432.78,202.7 433.48,203.87 434.18,205.11 434.88,206.41 435.58,207.76 436.29,209.18 436.99,210.65 437.69,212.19 438.39,213.78 439.09,215.43 439.79,217.15 440.5,218.92 441.2,220.75 441.9,222.65 442.6,224.6 443.3,226.61 444,228.68 444.71,230.82 445.41,233.01 446.11,235.26 446.81,237.57 447.51,239.94 448.21,242.37 448.92,244.86 449.62,247.41 450.32,250.02 451.02,252.69 451.72,255.42 452.42,258.21 453.12,261.06 453.83,263.88 454.53,266.59 455.23,269.17 455.93,271.64 456.63,274 457.34,276.23 458.04,278.35 458.74,280.35 459.44,282.24 460.14,284.01 460.84,285.66 461.55,287.2 462.25,288.61 462.95,289.92 463.65,291.1 464.35,292.17 465.05,293.12 465.75,293.95 466.46,294.67 467.16,295.27 467.86,295.75 468.56,296.12 469.26,296.37 469.97,296.5 470.67,296.52 471.37,296.42 472.07,296.2 472.77,295.86 473.47,295.41 474.18,294.84 474.88,294.24 475.58,293.68 476.28,293.16 476.98,292.69 477.68,292.27 478.38,291.89 479.09,291.56 479.79,291.27 480.49,291.02 481.19,290.82 481.89,290.67 482.6,290.56 483.3,290.49 484,290.47 484.7,290.5 485.4,290.57 486.1,290.69 486.81,290.85 487.51,291.05 488.21,291.3 488.91,291.6 489.61,291.94 490.31,292.33 491.01,292.76 491.72,293.23 492.42,293.75 493.12,294.32 493.82,294.93 494.52,295.59 495.23,296.29 495.93,297.03 496.63,297.82 497.33,298.66 498.03,299.54 498.73,300.47 499.44,301.44 500.14,302.45 500.84,303.51 501.54,304.62 502.24,305.77 502.94,306.97 503.64,308.21 504.35,309.49 505.05,310.82 505.75,312.2" fill="none" stroke="#2f9a3d" stroke-width="1.45"/>
<circle cx="316.3" cy="312.5" r="2.75" fill="#e0292d" stroke="#3a3a3a" stroke-width="0.45"/>
<circle cx="337.35" cy="265.2" r="2.75" fill="#e0292d" stroke="#3a3a3a" stroke-width="0.45"/>
<circle cx="358.4" cy="228.8" r="2.75" fill="#e0292d" stroke="#3a3a3a" stroke-width="0.45"/>
<circle cx="379.45" cy="201" r="2.75" fill="#e0292d" stroke="#3a3a3a" stroke-width="0.45"/>
<circle cx="400.5" cy="247.5" r="2.75" fill="#e0292d" stroke="#3a3a3a" stroke-width="0.45"/>
<circle cx="421.55" cy="312.6" r="2.75" fill="#e0292d" stroke="#3a3a3a" stroke-width="0.45"/>
<circle cx="442.6" cy="252.3" r="2.75" fill="#e0292d" stroke="#3a3a3a" stroke-width="0.45"/>
<circle cx="463.65" cy="253.6" r="2.75" fill="#e0292d" stroke="#3a3a3a" stroke-width="0.45"/>
<circle cx="484.7" cy="252.9" r="2.75" fill="#e0292d" stroke="#3a3a3a" stroke-width="0.45"/>
<circle cx="505.75" cy="312.2" r="2.75" fill="#e0292d" stroke="#3a3a3a" stroke-width="0.45"/>
<circle cx="316.3" cy="312.5" r="2.75" fill="#2b8a3e" stroke="#3a3a3a" stroke-width="0.45"/>
<circle cx="337.35" cy="307.8" r="2.75" fill="#2b8a3e" stroke="#3a3a3a" stroke-width="0.45"/>
<circle cx="358.4" cy="256" r="2.75" fill="#2b8a3e" stroke="#3a3a3a" stroke-width="0.45"/>
<circle cx="379.45" cy="195.8" r="2.75" fill="#2b8a3e" stroke="#3a3a3a" stroke-width="0.45"/>
<circle cx="400.5" cy="198" r="2.75" fill="#2b8a3e" stroke="#3a3a3a" stroke-width="0.45"/>
<circle cx="421.55" cy="191.5" r="2.75" fill="#2b8a3e" stroke="#3a3a3a" stroke-width="0.45"/>
<circle cx="442.6" cy="224.6" r="2.75" fill="#2b8a3e" stroke="#3a3a3a" stroke-width="0.45"/>
<circle cx="463.65" cy="291.1" r="2.75" fill="#2b8a3e" stroke="#3a3a3a" stroke-width="0.45"/>
<circle cx="484.7" cy="290.5" r="2.75" fill="#2b8a3e" stroke="#3a3a3a" stroke-width="0.45"/>
<circle cx="505.75" cy="312.2" r="2.75" fill="#2b8a3e" stroke="#3a3a3a" stroke-width="0.45"/>
<text x="305.3" y="315.4" font-size="8.2" text-anchor="end" font-weight="normal" fill="#2a2a2a" >0.000</text>
<text x="305.3" y="296.55" font-size="8.2" text-anchor="end" font-weight="normal" fill="#2a2a2a" >0.025</text>
<text x="305.3" y="277.7" font-size="8.2" text-anchor="end" font-weight="normal" fill="#2a2a2a" >0.050</text>
<text x="305.3" y="258.85" font-size="8.2" text-anchor="end" font-weight="normal" fill="#2a2a2a" >0.075</text>
<text x="305.3" y="240" font-size="8.2" text-anchor="end" font-weight="normal" fill="#2a2a2a" >0.100</text>
<text x="305.3" y="221.15" font-size="8.2" text-anchor="end" font-weight="normal" fill="#2a2a2a" >0.125</text>
<text x="305.3" y="202.3" font-size="8.2" text-anchor="end" font-weight="normal" fill="#2a2a2a" >0.150</text>
<text x="311.6" y="200.2" font-size="8.7" text-anchor="start" font-weight="bold" fill="#111" >6% La-doping</text>
<rect x="457.4" y="189.4" width="53.9" height="24.5" rx="1.5" fill="#fff" stroke="#e4e4e4" stroke-width="0.7"/>
<line x1="459.8" y1="195.5" x2="476.8" y2="195.5" stroke="#e3312f" stroke-width="1.4" stroke-dasharray="4.4,2.3"/>
<text x="483.3" y="198.45" font-size="8.2" text-anchor="start" font-weight="normal" fill="#222" >T-Path</text>
<line x1="459.8" y1="206.8" x2="476.8" y2="206.8" stroke="#2f9a3d" stroke-width="1.4"/>
<text x="483.3" y="209.75" font-size="8.2" text-anchor="start" font-weight="normal" fill="#222" >N-Path</text>
<text x="411.3" y="331" font-size="9.4" text-anchor="middle" font-weight="normal" fill="#222" >Reaction Coordinates</text>
<text transform="translate(281.3,253.9) rotate(-90)" font-size="8.9" text-anchor="middle" fill="#222">Energy Barrier (eV)/f.u</text>
<rect x="307.6" y="339.7" width="207.8" height="138.3" fill="none" stroke="#9c9c9c" stroke-width="1"/>
<polyline points="316.3,469.8 317,466.71 317.7,463.82 318.41,461.11 319.11,458.59 319.81,456.25 320.51,454.08 321.21,452.08 321.91,450.25 322.62,448.59 323.32,447.07 324.02,445.71 324.72,444.5 325.42,443.43 326.12,442.5 326.82,441.71 327.53,441.04 328.23,440.5 328.93,440.08 329.63,439.77 330.33,439.57 331.04,439.49 331.74,439.5 332.44,439.61 333.14,439.81 333.84,440.1 334.54,440.47 335.25,440.92 335.95,441.45 336.65,442.04 337.35,442.7 338.05,443.42 338.75,444.2 339.46,445.02 340.16,445.89 340.86,446.81 341.56,447.76 342.26,448.74 342.96,449.76 343.67,450.79 344.37,451.85 345.07,452.92 345.77,453.99 346.47,455.08 347.17,456.16 347.88,457.24 348.58,458.31 349.28,459.37 349.98,460.41 350.68,461.43 351.38,462.41 352.09,463.37 352.79,464.29 353.49,465.17 354.19,466.01 354.89,466.79 355.59,467.52 356.3,468.19 357,468.8 357.7,469.34 358.4,469.8 359.1,470.19 359.8,470.5 360.5,470.74 361.21,470.92 361.91,471.03 362.61,471.09 363.31,471.09 364.01,471.03 364.72,470.93 365.42,470.78 366.12,470.6 366.82,470.37 367.52,470.11 368.22,469.83 368.93,469.51 369.63,469.18 370.33,468.82 371.03,468.45 371.73,468.07 372.43,467.68 373.13,467.29 373.84,466.9 374.54,466.51 375.24,466.13 375.94,465.76 376.64,465.4 377.35,465.07 378.05,464.75 378.75,464.46 379.45,464.2 380.15,463.97 380.85,463.77 381.56,463.59 382.26,463.43 382.96,463.28 383.66,463.14 384.36,463 385.06,462.86 385.76,462.7 386.47,462.53 387.17,462.35 387.87,462.13 388.57,461.89 389.27,461.61 389.98,461.29 390.68,460.93 391.38,460.51 392.08,460.04 392.78,459.5 393.48,458.9 394.19,458.22 394.89,457.47 395.59,456.63 396.29,455.71 396.99,454.69 397.69,453.57 398.39,452.35 399.1,451.01 399.8,449.57 400.5,448 401.2,446.31 401.9,444.51 402.61,442.6 403.31,440.6 404.01,438.53 404.71,436.39 405.41,434.19 406.11,431.95 406.81,429.68 407.52,427.39 408.22,425.09 408.92,422.79 409.62,420.51 410.32,418.25 411.02,416.04 411.73,413.87 412.43,411.77 413.13,409.74 413.83,407.79 414.53,405.95 415.24,404.21 415.94,402.59 416.64,401.11 417.34,399.77 418.04,398.58 418.74,397.56 419.44,396.72 420.15,396.08 420.85,395.63 421.55,395.4 422.25,395.39 422.95,395.6 423.66,396.01 424.36,396.62 425.06,397.42 425.76,398.39 426.46,399.52 427.16,400.81 427.87,402.24 428.57,403.81 429.27,405.5 429.97,407.31 430.67,409.21 431.37,411.22 432.08,413.3 432.78,415.46 433.48,417.68 434.18,419.95 434.88,422.27 435.58,424.62 436.29,426.98 436.99,429.36 437.69,431.75 438.39,434.12 439.09,436.47 439.79,438.8 440.5,441.08 441.2,443.32 441.9,445.49 442.6,447.6 443.3,449.63 444,451.57 444.71,453.44 445.41,455.22 446.11,456.91 446.81,458.53 447.51,460.06 448.21,461.5 448.92,462.86 449.62,464.13 450.32,465.31 451.02,466.4 451.72,467.41 452.42,468.32 453.12,469.14 453.83,469.87 454.53,470.51 455.23,471.06 455.93,471.51 456.63,471.87 457.34,472.14 458.04,472.3 458.74,472.37 459.44,472.35 460.14,472.22 460.84,472 461.55,471.68 462.25,471.25 462.95,470.73 463.65,470.1 464.35,469.37 465.05,468.55 465.75,467.63 466.46,466.63 467.16,465.56 467.86,464.41 468.56,463.2 469.26,461.93 469.97,460.6 470.67,459.23 471.37,457.82 472.07,456.38 472.77,454.9 473.47,453.41 474.18,451.9 474.88,450.38 475.58,448.86 476.28,447.35 476.98,445.84 477.68,444.35 478.38,442.88 479.09,441.44 479.79,440.04 480.49,438.67 481.19,437.36 481.89,436.09 482.6,434.89 483.3,433.75 484,432.69 484.7,431.7 485.4,430.8 486.1,429.99 486.81,429.27 487.51,428.66 488.21,428.16 488.91,427.78 489.61,427.52 490.31,427.38 491.01,427.39 491.72,427.53 492.42,427.82 493.12,428.26 493.82,428.86 494.52,429.63 495.23,430.57 495.93,431.69 496.63,433 497.33,434.49 498.03,436.18 498.73,438.08 499.44,440.18 500.14,442.51 500.84,445.05 501.54,447.82 502.24,450.83 502.94,454.08 503.64,457.57 504.35,461.32 505.05,465.33 505.75,469.6" fill="none" stroke="#e3312f" stroke-width="1.45" stroke-dasharray="4.4,2.3"/>
<polyline points="316.3,469.8 317,470.26 317.7,470.64 318.41,470.95 319.11,471.18 319.81,471.34 320.51,471.42 321.21,471.43 321.91,471.36 322.62,471.22 323.32,471.01 324.02,470.71 324.72,470.35 325.42,469.9 326.12,469.39 326.82,468.79 327.53,468.13 328.23,467.38 328.93,466.57 329.63,465.67 330.33,464.71 331.04,463.66 331.74,462.54 332.44,461.35 333.14,460.08 333.84,458.74 334.54,457.32 335.25,455.83 335.95,454.26 336.65,452.62 337.35,450.9 338.05,449.11 338.75,447.24 339.46,445.29 340.16,443.28 340.86,441.18 341.56,439.01 342.26,436.77 342.96,434.45 343.67,432.06 344.37,429.59 345.07,427.05 345.77,424.43 346.47,421.73 347.17,418.96 347.88,416.12 348.58,413.29 349.28,410.58 349.98,407.98 350.68,405.5 351.38,403.12 352.09,400.86 352.79,398.71 353.49,396.68 354.19,394.76 354.89,392.95 355.59,391.25 356.3,389.67 357,388.2 357.7,386.84 358.4,385.6 359.1,384.47 359.8,383.45 360.5,382.55 361.21,381.75 361.91,381.07 362.61,380.51 363.31,380.05 364.01,379.71 364.72,379.49 365.42,379.37 366.12,379.37 366.82,379.48 367.52,379.71 368.22,380.04 368.93,380.49 369.63,380.99 370.33,381.49 371.03,381.98 371.73,382.46 372.43,382.93 373.13,383.39 373.84,383.84 374.54,384.29 375.24,384.73 375.94,385.16 376.64,385.59 377.35,386 378.05,386.41 378.75,386.81 379.45,387.2 380.15,387.58 380.85,387.96 381.56,388.33 382.26,388.69 382.96,389.04 383.66,389.38 384.36,389.72 385.06,390.05 385.76,390.37 386.47,390.68 387.17,390.99 387.87,391.28 388.57,391.57 389.27,391.85 389.98,392.13 390.68,392.35 391.38,392.49 392.08,392.54 392.78,392.49 393.48,392.37 394.19,392.15 394.89,391.84 395.59,391.45 396.29,390.96 396.99,390.39 397.69,389.73 398.39,388.98 399.1,388.14 399.8,387.22 400.5,386.2 401.2,385.1 401.9,383.9 402.61,382.62 403.31,381.25 404.01,379.8 404.71,378.25 405.41,376.61 406.11,374.89 406.81,373.08 407.52,371.18 408.22,369.19 408.92,367.11 409.62,364.94 410.32,362.69 411.02,360.35 411.73,358.06 412.43,355.98 413.13,354.1 413.83,352.42 414.53,350.95 415.24,349.68 415.94,348.61 416.64,347.75 417.34,347.09 418.04,346.63 418.74,346.38 419.44,346.33 420.15,346.48 420.85,346.84 421.55,347.4 422.25,348.16 422.95,349.13 423.66,350.3 424.36,351.67 425.06,353.25 425.76,355.03 426.46,357.01 427.16,359.2 427.87,361.59 428.57,364.18 429.27,366.98 429.97,369.98 430.67,373.18 431.37,376.59 432.08,380.2 432.78,383.86 433.48,387.44 434.18,390.93 434.88,394.34 435.58,397.66 436.29,400.88 436.99,404.03 437.69,407.08 438.39,410.05 439.09,412.92 439.79,415.71 440.5,418.42 441.2,421.03 441.9,423.56 442.6,426 443.3,428.35 444,430.62 444.71,432.79 445.41,434.88 446.11,436.89 446.81,438.8 447.51,440.63 448.21,442.36 448.92,444.02 449.62,445.58 450.32,447.05 451.02,448.44 451.72,449.74 452.42,450.96 453.12,452.08 453.83,453.14 454.53,454.15 455.23,455.11 455.93,456.03 456.63,456.9 457.34,457.72 458.04,458.5 458.74,459.22 459.44,459.9 460.14,460.54 460.84,461.12 461.55,461.66 462.25,462.16 462.95,462.6 463.65,463 464.35,463.35 465.05,463.66 465.75,463.91 466.46,464.12 467.16,464.28 467.86,464.4 468.56,464.47 469.26,464.49 469.97,464.46 470.67,464.39 471.37,464.27 472.07,464.1 472.77,463.89 473.47,463.63 474.18,463.32 474.88,463 475.58,462.7 476.28,462.42 476.98,462.16 477.68,461.92 478.38,461.71 479.09,461.51 479.79,461.34 480.49,461.18 481.19,461.05 481.89,460.94 482.6,460.85 483.3,460.78 484,460.73 484.7,460.7 485.4,460.69 486.1,460.71 486.81,460.74 487.51,460.8 488.21,460.87 488.91,460.97 489.61,461.09 490.31,461.23 491.01,461.39 491.72,461.57 492.42,461.77 493.12,462 493.82,462.24 494.52,462.51 495.23,462.79 495.93,463.1 496.63,463.43 497.33,463.78 498.03,464.15 498.73,464.54 499.44,464.95 500.14,465.38 500.84,465.84 501.54,466.31 502.24,466.81 502.94,467.32 503.64,467.86 504.35,468.42 505.05,469 505.75,469.6" fill="none" stroke="#2f9a3d" stroke-width="1.45"/>
<circle cx="316.3" cy="469.8" r="2.75" fill="#e0292d" stroke="#3a3a3a" stroke-width="0.45"/>
<circle cx="337.35" cy="442.7" r="2.75" fill="#e0292d" stroke="#3a3a3a" stroke-width="0.45"/>
<circle cx="358.4" cy="469.8" r="2.75" fill="#e0292d" stroke="#3a3a3a" stroke-width="0.45"/>
<circle cx="379.45" cy="464.2" r="2.75" fill="#e0292d" stroke="#3a3a3a" stroke-width="0.45"/>
<circle cx="400.5" cy="448" r="2.75" fill="#e0292d" stroke="#3a3a3a" stroke-width="0.45"/>
<circle cx="421.55" cy="395.4" r="2.75" fill="#e0292d" stroke="#3a3a3a" stroke-width="0.45"/>
<circle cx="442.6" cy="447.6" r="2.75" fill="#e0292d" stroke="#3a3a3a" stroke-width="0.45"/>
<circle cx="463.65" cy="470.1" r="2.75" fill="#e0292d" stroke="#3a3a3a" stroke-width="0.45"/>
<circle cx="484.7" cy="431.7" r="2.75" fill="#e0292d" stroke="#3a3a3a" stroke-width="0.45"/>
<circle cx="505.75" cy="469.6" r="2.75" fill="#e0292d" stroke="#3a3a3a" stroke-width="0.45"/>
<circle cx="316.3" cy="469.8" r="2.75" fill="#2b8a3e" stroke="#3a3a3a" stroke-width="0.45"/>
<circle cx="337.35" cy="450.9" r="2.75" fill="#2b8a3e" stroke="#3a3a3a" stroke-width="0.45"/>
<circle cx="358.4" cy="385.6" r="2.75" fill="#2b8a3e" stroke="#3a3a3a" stroke-width="0.45"/>
<circle cx="379.45" cy="387.2" r="2.75" fill="#2b8a3e" stroke="#3a3a3a" stroke-width="0.45"/>
<circle cx="400.5" cy="386.2" r="2.75" fill="#2b8a3e" stroke="#3a3a3a" stroke-width="0.45"/>
<circle cx="421.55" cy="347.4" r="2.75" fill="#2b8a3e" stroke="#3a3a3a" stroke-width="0.45"/>
<circle cx="442.6" cy="426" r="2.75" fill="#2b8a3e" stroke="#3a3a3a" stroke-width="0.45"/>
<circle cx="463.65" cy="463" r="2.75" fill="#2b8a3e" stroke="#3a3a3a" stroke-width="0.45"/>
<circle cx="484.7" cy="460.7" r="2.75" fill="#2b8a3e" stroke="#3a3a3a" stroke-width="0.45"/>
<circle cx="505.75" cy="469.6" r="2.75" fill="#2b8a3e" stroke="#3a3a3a" stroke-width="0.45"/>
<text x="305.3" y="472.7" font-size="8.2" text-anchor="end" font-weight="normal" fill="#2a2a2a" >0.000</text>
<text x="305.3" y="452.88" font-size="8.2" text-anchor="end" font-weight="normal" fill="#2a2a2a" >0.025</text>
<text x="305.3" y="433.06" font-size="8.2" text-anchor="end" font-weight="normal" fill="#2a2a2a" >0.050</text>
<text x="305.3" y="413.25" font-size="8.2" text-anchor="end" font-weight="normal" fill="#2a2a2a" >0.075</text>
<text x="305.3" y="393.43" font-size="8.2" text-anchor="end" font-weight="normal" fill="#2a2a2a" >0.100</text>
<text x="305.3" y="373.61" font-size="8.2" text-anchor="end" font-weight="normal" fill="#2a2a2a" >0.125</text>
<text x="305.3" y="353.79" font-size="8.2" text-anchor="end" font-weight="normal" fill="#2a2a2a" >0.150</text>
<text x="311.4" y="354.4" font-size="8.7" text-anchor="start" font-weight="bold" fill="#111" >25% La-doping</text>
<rect x="457.8" y="344.7" width="54.5" height="24.1" rx="1.5" fill="#fff" stroke="#e4e4e4" stroke-width="0.7"/>
<line x1="460.8" y1="350" x2="477.6" y2="350" stroke="#e3312f" stroke-width="1.4" stroke-dasharray="4.4,2.3"/>
<text x="484.3" y="352.95" font-size="8.2" text-anchor="start" font-weight="normal" fill="#222" >T-Path</text>
<line x1="460.8" y1="361.7" x2="477.6" y2="361.7" stroke="#2f9a3d" stroke-width="1.4"/>
<text x="484.3" y="364.65" font-size="8.2" text-anchor="start" font-weight="normal" fill="#222" >N-Path</text>
<text x="411.3" y="486.8" font-size="9.4" text-anchor="middle" font-weight="normal" fill="#222" >Reaction Coordinates</text>
<text transform="translate(281.2,409.3) rotate(-90)" font-size="8.9" text-anchor="middle" fill="#222">Energy Barrier (eV)/f.u</text>
<rect x="536" y="15.2" width="146.7" height="222.1" fill="none" stroke="#5b6e86" stroke-width="1.5"/>
<rect x="536" y="250.8" width="147.4" height="231.8" fill="none" stroke="#5b6e86" stroke-width="1.5"/>
<line x1="545.7" y1="48.1" x2="623.2" y2="48.1" stroke="#e3262c" stroke-width="1.0" stroke-dasharray="1.1,1.1"/>
<line x1="545.7" y1="73.5" x2="623.2" y2="73.5" stroke="#e3262c" stroke-width="1.0" stroke-dasharray="1.1,1.1"/>
<line x1="556.4" y1="36" x2="556.4" y2="86.9" stroke="#7a7a7a" stroke-width="1.4"/>
<line x1="607" y1="36" x2="607" y2="86.9" stroke="#7a7a7a" stroke-width="1.4"/>
<line x1="556.4" y1="36" x2="607" y2="36" stroke="#1e1e1e" stroke-width="1.25"/>
<line x1="556.4" y1="86.9" x2="607" y2="86.9" stroke="#1e1e1e" stroke-width="1.25"/>
<line x1="569.8" y1="51" x2="556.4" y2="36" stroke="#111" stroke-width="1.9" stroke-linecap="round"/>
<line x1="569.8" y1="51" x2="556.4" y2="60.2" stroke="#111" stroke-width="1.9" stroke-linecap="round"/>
<line x1="569.8" y1="51" x2="582" y2="36" stroke="#111" stroke-width="1.9" stroke-linecap="round"/>
<line x1="569.8" y1="51" x2="582" y2="60.2" stroke="#111" stroke-width="1.9" stroke-linecap="round"/>
<line x1="569.8" y1="72.6" x2="556.4" y2="60.2" stroke="#111" stroke-width="1.9" stroke-linecap="round"/>
<line x1="569.8" y1="72.6" x2="556.4" y2="86.9" stroke="#111" stroke-width="1.9" stroke-linecap="round"/>
<line x1="569.8" y1="72.6" x2="582" y2="60.2" stroke="#111" stroke-width="1.9" stroke-linecap="round"/>
<line x1="569.8" y1="72.6" x2="582" y2="86.9" stroke="#111" stroke-width="1.9" stroke-linecap="round"/>
<line x1="591.9" y1="52.4" x2="582" y2="36" stroke="#111" stroke-width="1.9" stroke-linecap="round"/>
<line x1="596.7" y1="52.4" x2="607" y2="36" stroke="#111" stroke-width="1.9" stroke-linecap="round"/>
<line x1="591.9" y1="52.4" x2="582" y2="60.2" stroke="#111" stroke-width="1.9" stroke-linecap="round"/>
<line x1="596.7" y1="52.4" x2="607" y2="60.2" stroke="#111" stroke-width="1.9" stroke-linecap="round"/>
<line x1="591.9" y1="77.5" x2="582" y2="60.2" stroke="#111" stroke-width="1.9" stroke-linecap="round"/>
<line x1="596.7" y1="77.5" x2="607" y2="60.2" stroke="#111" stroke-width="1.9" stroke-linecap="round"/>
<line x1="591.9" y1="77.5" x2="582" y2="86.9" stroke="#111" stroke-width="1.9" stroke-linecap="round"/>
<line x1="596.7" y1="77.5" x2="607" y2="86.9" stroke="#111" stroke-width="1.9" stroke-linecap="round"/>
<circle cx="556.4" cy="36" r="5.0" fill="#b8932e" stroke="#5e4b1e" stroke-width="0.7"/>
<circle cx="556.4" cy="60.2" r="5.0" fill="#b8932e" stroke="#5e4b1e" stroke-width="0.7"/>
<circle cx="556.4" cy="86.9" r="5.0" fill="#b8932e" stroke="#5e4b1e" stroke-width="0.7"/>
<circle cx="582" cy="36" r="5.0" fill="#b8932e" stroke="#5e4b1e" stroke-width="0.7"/>
<circle cx="582" cy="60.2" r="5.0" fill="#b8932e" stroke="#5e4b1e" stroke-width="0.7"/>
<circle cx="582" cy="86.9" r="5.0" fill="#b8932e" stroke="#5e4b1e" stroke-width="0.7"/>
<circle cx="607" cy="36" r="5.0" fill="#b8932e" stroke="#5e4b1e" stroke-width="0.7"/>
<circle cx="607" cy="60.2" r="5.0" fill="#b8932e" stroke="#5e4b1e" stroke-width="0.7"/>
<circle cx="607" cy="86.9" r="5.0" fill="#b8932e" stroke="#5e4b1e" stroke-width="0.7"/>
<circle cx="568.4" cy="51" r="2.25" fill="#e0232b" stroke="#9a1a1a" stroke-width="0.35"/>
<circle cx="571.2" cy="51" r="2.25" fill="#e0232b" stroke="#9a1a1a" stroke-width="0.35"/>
<circle cx="568.4" cy="72.6" r="2.25" fill="#e0232b" stroke="#9a1a1a" stroke-width="0.35"/>
<circle cx="571.2" cy="72.6" r="2.25" fill="#e0232b" stroke="#9a1a1a" stroke-width="0.35"/>
<circle cx="591.8" cy="52.4" r="2.55" fill="#5aaee0" stroke="#2f6f9f" stroke-width="0.4"/>
<circle cx="596.8" cy="52.4" r="2.55" fill="#5aaee0" stroke="#2f6f9f" stroke-width="0.4"/>
<circle cx="591.8" cy="77.5" r="2.55" fill="#5aaee0" stroke="#2f6f9f" stroke-width="0.4"/>
<circle cx="596.8" cy="77.5" r="2.55" fill="#5aaee0" stroke="#2f6f9f" stroke-width="0.4"/>
<circle cx="590.6" cy="42.5" r="2.5" fill="#ececec" stroke="#8a8a8a" stroke-width="0.5"/>
<circle cx="596" cy="42.5" r="2.5" fill="#ececec" stroke="#8a8a8a" stroke-width="0.5"/>
<circle cx="590.6" cy="67.3" r="2.5" fill="#ececec" stroke="#8a8a8a" stroke-width="0.5"/>
<circle cx="596" cy="67.3" r="2.5" fill="#ececec" stroke="#8a8a8a" stroke-width="0.5"/>
<line x1="591.2" y1="45.3" x2="591.2" y2="47.4" stroke="#111" stroke-width="0.7"/>
<polygon points="589.9,47.4 592.5,47.4 591.2,49.3" fill="#111"/>
<line x1="596.2" y1="45.3" x2="596.2" y2="47.4" stroke="#111" stroke-width="0.7"/>
<polygon points="594.9,47.4 597.5,47.4 596.2,49.3" fill="#111"/>
<line x1="591.2" y1="70.2" x2="591.2" y2="72.3" stroke="#111" stroke-width="0.7"/>
<polygon points="589.9,72.3 592.5,72.3 591.2,74.2" fill="#111"/>
<line x1="596.2" y1="70.2" x2="596.2" y2="72.3" stroke="#111" stroke-width="0.7"/>
<polygon points="594.9,72.3 597.5,72.3 596.2,74.2" fill="#111"/>
<line x1="619" y1="72" x2="619" y2="56.8" stroke="#c8262e" stroke-width="2.4"/>
<polygon points="616.1,56.8 621.9,56.8 619,50.8" fill="#c8262e"/>
<text x="621.4" y="66.2" font-size="7.6" text-anchor="start" font-weight="bold" fill="#333" >P</text>
<line x1="545.7" y1="117.4" x2="623.2" y2="117.4" stroke="#e3262c" stroke-width="1.0" stroke-dasharray="1.1,1.1"/>
<line x1="545.7" y1="140.2" x2="623.2" y2="140.2" stroke="#e3262c" stroke-width="1.0" stroke-dasharray="1.1,1.1"/>
<line x1="557.6" y1="102.9" x2="557.6" y2="153.2" stroke="#7a7a7a" stroke-width="1.4"/>
<line x1="608.6" y1="102.9" x2="608.6" y2="153.2" stroke="#7a7a7a" stroke-width="1.4"/>
<line x1="557.6" y1="102.9" x2="608.6" y2="102.9" stroke="#1e1e1e" stroke-width="1.25"/>
<line x1="557.6" y1="153.2" x2="608.6" y2="153.2" stroke="#1e1e1e" stroke-width="1.25"/>
<line x1="571.3" y1="117.3" x2="557.6" y2="102.9" stroke="#111" stroke-width="1.9" stroke-linecap="round"/>
<line x1="571.3" y1="117.3" x2="557.6" y2="127" stroke="#111" stroke-width="1.9" stroke-linecap="round"/>
<line x1="571.3" y1="117.3" x2="583.1" y2="102.9" stroke="#111" stroke-width="1.9" stroke-linecap="round"/>
<line x1="571.3" y1="117.3" x2="583.1" y2="127" stroke="#111" stroke-width="1.9" stroke-linecap="round"/>
<line x1="571.3" y1="139.5" x2="557.6" y2="127" stroke="#111" stroke-width="1.9" stroke-linecap="round"/>
<line x1="571.3" y1="139.5" x2="557.6" y2="153.2" stroke="#111" stroke-width="1.9" stroke-linecap="round"/>
<line x1="571.3" y1="139.5" x2="583.1" y2="127" stroke="#111" stroke-width="1.9" stroke-linecap="round"/>
<line x1="571.3" y1="139.5" x2="583.1" y2="153.2" stroke="#111" stroke-width="1.9" stroke-linecap="round"/>
<line x1="593.1" y1="117.3" x2="583.1" y2="102.9" stroke="#111" stroke-width="1.9" stroke-linecap="round"/>
<line x1="597.9" y1="117.3" x2="608.6" y2="102.9" stroke="#111" stroke-width="1.9" stroke-linecap="round"/>
<line x1="593.1" y1="117.3" x2="583.1" y2="127" stroke="#111" stroke-width="1.9" stroke-linecap="round"/>
<line x1="597.9" y1="117.3" x2="608.6" y2="127" stroke="#111" stroke-width="1.9" stroke-linecap="round"/>
<line x1="593.1" y1="139.5" x2="583.1" y2="127" stroke="#111" stroke-width="1.9" stroke-linecap="round"/>
<line x1="597.9" y1="139.5" x2="608.6" y2="127" stroke="#111" stroke-width="1.9" stroke-linecap="round"/>
<line x1="593.1" y1="139.5" x2="583.1" y2="153.2" stroke="#111" stroke-width="1.9" stroke-linecap="round"/>
<line x1="597.9" y1="139.5" x2="608.6" y2="153.2" stroke="#111" stroke-width="1.9" stroke-linecap="round"/>
<circle cx="557.6" cy="102.9" r="5.0" fill="#b8932e" stroke="#5e4b1e" stroke-width="0.7"/>
<circle cx="557.6" cy="127" r="5.0" fill="#b8932e" stroke="#5e4b1e" stroke-width="0.7"/>
<circle cx="557.6" cy="153.2" r="5.0" fill="#b8932e" stroke="#5e4b1e" stroke-width="0.7"/>
<circle cx="583.1" cy="102.9" r="5.0" fill="#b8932e" stroke="#5e4b1e" stroke-width="0.7"/>
<circle cx="583.1" cy="127" r="5.0" fill="#b8932e" stroke="#5e4b1e" stroke-width="0.7"/>
<circle cx="583.1" cy="153.2" r="5.0" fill="#b8932e" stroke="#5e4b1e" stroke-width="0.7"/>
<circle cx="608.6" cy="102.9" r="5.0" fill="#b8932e" stroke="#5e4b1e" stroke-width="0.7"/>
<circle cx="608.6" cy="127" r="5.0" fill="#b8932e" stroke="#5e4b1e" stroke-width="0.7"/>
<circle cx="608.6" cy="153.2" r="5.0" fill="#b8932e" stroke="#5e4b1e" stroke-width="0.7"/>
<circle cx="569.9" cy="117.3" r="2.25" fill="#e0232b" stroke="#9a1a1a" stroke-width="0.35"/>
<circle cx="572.7" cy="117.3" r="2.25" fill="#e0232b" stroke="#9a1a1a" stroke-width="0.35"/>
<circle cx="569.9" cy="139.5" r="2.25" fill="#e0232b" stroke="#9a1a1a" stroke-width="0.35"/>
<circle cx="572.7" cy="139.5" r="2.25" fill="#e0232b" stroke="#9a1a1a" stroke-width="0.35"/>
<circle cx="593" cy="117.3" r="2.55" fill="#5aaee0" stroke="#2f6f9f" stroke-width="0.4"/>
<circle cx="598" cy="117.3" r="2.55" fill="#5aaee0" stroke="#2f6f9f" stroke-width="0.4"/>
<circle cx="593" cy="139.5" r="2.55" fill="#5aaee0" stroke="#2f6f9f" stroke-width="0.4"/>
<circle cx="598" cy="139.5" r="2.55" fill="#5aaee0" stroke="#2f6f9f" stroke-width="0.4"/>
<line x1="593" y1="113.6" x2="593" y2="111.5" stroke="#111" stroke-width="0.7"/>
<polygon points="591.7,111.5 594.3,111.5 593,109.6" fill="#111"/>
<line x1="598" y1="113.6" x2="598" y2="111.5" stroke="#111" stroke-width="0.7"/>
<polygon points="596.7,111.5 599.3,111.5 598,109.6" fill="#111"/>
<line x1="593" y1="135.4" x2="593" y2="133.3" stroke="#111" stroke-width="0.7"/>
<polygon points="591.7,133.3 594.3,133.3 593,131.4" fill="#111"/>
<line x1="598" y1="135.4" x2="598" y2="133.3" stroke="#111" stroke-width="0.7"/>
<polygon points="596.7,133.3 599.3,133.3 598,131.4" fill="#111"/>
<line x1="546.2" y1="184.8" x2="623.6" y2="184.8" stroke="#e3262c" stroke-width="1.0" stroke-dasharray="1.1,1.1"/>
<line x1="546.2" y1="209.4" x2="623.6" y2="209.4" stroke="#e3262c" stroke-width="1.0" stroke-dasharray="1.1,1.1"/>
<line x1="557.5" y1="168.9" x2="557.5" y2="219.4" stroke="#7a7a7a" stroke-width="1.4"/>
<line x1="608.5" y1="168.9" x2="608.5" y2="219.4" stroke="#7a7a7a" stroke-width="1.4"/>
<line x1="557.5" y1="168.9" x2="608.5" y2="168.9" stroke="#1e1e1e" stroke-width="1.25"/>
<line x1="557.5" y1="219.4" x2="608.5" y2="219.4" stroke="#1e1e1e" stroke-width="1.25"/>
<line x1="571.1" y1="184" x2="557.5" y2="168.9" stroke="#111" stroke-width="1.9" stroke-linecap="round"/>
<line x1="571.1" y1="184" x2="557.5" y2="194.8" stroke="#111" stroke-width="1.9" stroke-linecap="round"/>
<line x1="571.1" y1="184" x2="583.4" y2="168.9" stroke="#111" stroke-width="1.9" stroke-linecap="round"/>
<line x1="571.1" y1="184" x2="583.4" y2="194.8" stroke="#111" stroke-width="1.9" stroke-linecap="round"/>
<line x1="571.1" y1="208.3" x2="557.5" y2="194.8" stroke="#111" stroke-width="1.9" stroke-linecap="round"/>
<line x1="571.1" y1="208.3" x2="557.5" y2="219.4" stroke="#111" stroke-width="1.9" stroke-linecap="round"/>
<line x1="571.1" y1="208.3" x2="583.4" y2="194.8" stroke="#111" stroke-width="1.9" stroke-linecap="round"/>
<line x1="571.1" y1="208.3" x2="583.4" y2="219.4" stroke="#111" stroke-width="1.9" stroke-linecap="round"/>
<line x1="592.8" y1="179.1" x2="583.4" y2="168.9" stroke="#111" stroke-width="1.9" stroke-linecap="round"/>
<line x1="597.6" y1="179.1" x2="608.5" y2="168.9" stroke="#111" stroke-width="1.9" stroke-linecap="round"/>
<line x1="592.8" y1="179.1" x2="583.4" y2="194.8" stroke="#111" stroke-width="1.9" stroke-linecap="round"/>
<line x1="597.6" y1="179.1" x2="608.5" y2="194.8" stroke="#111" stroke-width="1.9" stroke-linecap="round"/>
<line x1="592.8" y1="203.7" x2="583.4" y2="194.8" stroke="#111" stroke-width="1.9" stroke-linecap="round"/>
<line x1="597.6" y1="203.7" x2="608.5" y2="194.8" stroke="#111" stroke-width="1.9" stroke-linecap="round"/>
<line x1="592.8" y1="203.7" x2="583.4" y2="219.4" stroke="#111" stroke-width="1.9" stroke-linecap="round"/>
<line x1="597.6" y1="203.7" x2="608.5" y2="219.4" stroke="#111" stroke-width="1.9" stroke-linecap="round"/>
<circle cx="557.5" cy="168.9" r="5.0" fill="#b8932e" stroke="#5e4b1e" stroke-width="0.7"/>
<circle cx="557.5" cy="194.8" r="5.0" fill="#b8932e" stroke="#5e4b1e" stroke-width="0.7"/>
<circle cx="557.5" cy="219.4" r="5.0" fill="#b8932e" stroke="#5e4b1e" stroke-width="0.7"/>
<circle cx="583.4" cy="168.9" r="5.0" fill="#b8932e" stroke="#5e4b1e" stroke-width="0.7"/>
<circle cx="583.4" cy="194.8" r="5.0" fill="#b8932e" stroke="#5e4b1e" stroke-width="0.7"/>
<circle cx="583.4" cy="219.4" r="5.0" fill="#b8932e" stroke="#5e4b1e" stroke-width="0.7"/>
<circle cx="608.5" cy="168.9" r="5.0" fill="#b8932e" stroke="#5e4b1e" stroke-width="0.7"/>
<circle cx="608.5" cy="194.8" r="5.0" fill="#b8932e" stroke="#5e4b1e" stroke-width="0.7"/>
<circle cx="608.5" cy="219.4" r="5.0" fill="#b8932e" stroke="#5e4b1e" stroke-width="0.7"/>
<circle cx="569.7" cy="184" r="2.25" fill="#e0232b" stroke="#9a1a1a" stroke-width="0.35"/>
<circle cx="572.5" cy="184" r="2.25" fill="#e0232b" stroke="#9a1a1a" stroke-width="0.35"/>
<circle cx="569.7" cy="208.3" r="2.25" fill="#e0232b" stroke="#9a1a1a" stroke-width="0.35"/>
<circle cx="572.5" cy="208.3" r="2.25" fill="#e0232b" stroke="#9a1a1a" stroke-width="0.35"/>
<circle cx="592.7" cy="179.1" r="2.55" fill="#5aaee0" stroke="#2f6f9f" stroke-width="0.4"/>
<circle cx="597.7" cy="179.1" r="2.55" fill="#5aaee0" stroke="#2f6f9f" stroke-width="0.4"/>
<circle cx="592.7" cy="203.7" r="2.55" fill="#5aaee0" stroke="#2f6f9f" stroke-width="0.4"/>
<circle cx="597.7" cy="203.7" r="2.55" fill="#5aaee0" stroke="#2f6f9f" stroke-width="0.4"/>
<line x1="621.1" y1="186.1" x2="621.1" y2="201.4" stroke="#c8262e" stroke-width="2.4"/>
<polygon points="618.2,201.4 624,201.4 621.1,207.4" fill="#c8262e"/>
<text x="624.6" y="201.6" font-size="7.6" text-anchor="start" font-weight="bold" fill="#333" >P</text>
<text x="627.8" y="127" font-size="10.7" text-anchor="start" font-weight="bold" fill="#111" >N-Path</text>
<text x="627.8" y="139.7" font-size="10.6" text-anchor="start" font-weight="normal" fill="#222" >50 &#956;C/cm<tspan font-size="7.2" dy="-3.8">2</tspan></text>
<line x1="543.6" y1="284.4" x2="626.1" y2="284.4" stroke="#e3262c" stroke-width="1.0" stroke-dasharray="1.1,1.1"/>
<line x1="557.7" y1="258.3" x2="557.7" y2="312.4" stroke="#7a7a7a" stroke-width="1.4"/>
<line x1="612.2" y1="258.3" x2="612.2" y2="312.4" stroke="#7a7a7a" stroke-width="1.4"/>
<line x1="557.7" y1="258.3" x2="612.2" y2="258.3" stroke="#1e1e1e" stroke-width="1.25"/>
<line x1="557.7" y1="312.4" x2="612.2" y2="312.4" stroke="#1e1e1e" stroke-width="1.25"/>
<line x1="572.3" y1="274.1" x2="557.7" y2="258.3" stroke="#111" stroke-width="1.9" stroke-linecap="round"/>
<line x1="572.3" y1="274.1" x2="557.7" y2="284.4" stroke="#111" stroke-width="1.9" stroke-linecap="round"/>
<line x1="572.3" y1="274.1" x2="585.2" y2="258.3" stroke="#111" stroke-width="1.9" stroke-linecap="round"/>
<line x1="572.3" y1="274.1" x2="585.2" y2="284.4" stroke="#111" stroke-width="1.9" stroke-linecap="round"/>
<line x1="572.3" y1="297.4" x2="557.7" y2="284.4" stroke="#111" stroke-width="1.9" stroke-linecap="round"/>
<line x1="572.3" y1="297.4" x2="557.7" y2="312.4" stroke="#111" stroke-width="1.9" stroke-linecap="round"/>
<line x1="572.3" y1="297.4" x2="585.2" y2="284.4" stroke="#111" stroke-width="1.9" stroke-linecap="round"/>
<line x1="572.3" y1="297.4" x2="585.2" y2="312.4" stroke="#111" stroke-width="1.9" stroke-linecap="round"/>
<line x1="596.1" y1="275.8" x2="585.2" y2="258.3" stroke="#111" stroke-width="1.9" stroke-linecap="round"/>
<line x1="600.9" y1="275.8" x2="612.2" y2="258.3" stroke="#111" stroke-width="1.9" stroke-linecap="round"/>
<line x1="596.1" y1="275.8" x2="585.2" y2="284.4" stroke="#111" stroke-width="1.9" stroke-linecap="round"/>
<line x1="600.9" y1="275.8" x2="612.2" y2="284.4" stroke="#111" stroke-width="1.9" stroke-linecap="round"/>
<line x1="596.1" y1="302.8" x2="585.2" y2="284.4" stroke="#111" stroke-width="1.9" stroke-linecap="round"/>
<line x1="600.9" y1="302.8" x2="612.2" y2="284.4" stroke="#111" stroke-width="1.9" stroke-linecap="round"/>
<line x1="596.1" y1="302.8" x2="585.2" y2="312.4" stroke="#111" stroke-width="1.9" stroke-linecap="round"/>
<line x1="600.9" y1="302.8" x2="612.2" y2="312.4" stroke="#111" stroke-width="1.9" stroke-linecap="round"/>
<circle cx="557.7" cy="258.3" r="5.4" fill="#b8932e" stroke="#5e4b1e" stroke-width="0.7"/>
<circle cx="557.7" cy="284.4" r="5.4" fill="#b8932e" stroke="#5e4b1e" stroke-width="0.7"/>
<circle cx="557.7" cy="312.4" r="5.4" fill="#b8932e" stroke="#5e4b1e" stroke-width="0.7"/>
<circle cx="585.2" cy="258.3" r="5.4" fill="#b8932e" stroke="#5e4b1e" stroke-width="0.7"/>
<circle cx="585.2" cy="284.4" r="5.4" fill="#b8932e" stroke="#5e4b1e" stroke-width="0.7"/>
<circle cx="585.2" cy="312.4" r="5.4" fill="#b8932e" stroke="#5e4b1e" stroke-width="0.7"/>
<circle cx="612.2" cy="258.3" r="5.4" fill="#b8932e" stroke="#5e4b1e" stroke-width="0.7"/>
<circle cx="612.2" cy="284.4" r="5.4" fill="#b8932e" stroke="#5e4b1e" stroke-width="0.7"/>
<circle cx="612.2" cy="312.4" r="5.4" fill="#b8932e" stroke="#5e4b1e" stroke-width="0.7"/>
<circle cx="570.9" cy="274.1" r="2.25" fill="#e0232b" stroke="#9a1a1a" stroke-width="0.35"/>
<circle cx="573.7" cy="274.1" r="2.25" fill="#e0232b" stroke="#9a1a1a" stroke-width="0.35"/>
<circle cx="570.9" cy="297.4" r="2.25" fill="#e0232b" stroke="#9a1a1a" stroke-width="0.35"/>
<circle cx="573.7" cy="297.4" r="2.25" fill="#e0232b" stroke="#9a1a1a" stroke-width="0.35"/>
<circle cx="596" cy="275.8" r="2.55" fill="#5aaee0" stroke="#2f6f9f" stroke-width="0.4"/>
<circle cx="601" cy="275.8" r="2.55" fill="#5aaee0" stroke="#2f6f9f" stroke-width="0.4"/>
<circle cx="596" cy="302.8" r="2.55" fill="#5aaee0" stroke="#2f6f9f" stroke-width="0.4"/>
<circle cx="601" cy="302.8" r="2.55" fill="#5aaee0" stroke="#2f6f9f" stroke-width="0.4"/>
<circle cx="595.1" cy="290.9" r="2.5" fill="#ececec" stroke="#8a8a8a" stroke-width="0.5"/>
<circle cx="600.5" cy="290.9" r="2.5" fill="#ececec" stroke="#8a8a8a" stroke-width="0.5"/>
<line x1="595.8" y1="280" x2="595.8" y2="282.1" stroke="#111" stroke-width="0.7"/>
<polygon points="594.5,282.1 597.1,282.1 595.8,284" fill="#111"/>
<line x1="600.8" y1="280" x2="600.8" y2="282.1" stroke="#111" stroke-width="0.7"/>
<polygon points="599.5,282.1 602.1,282.1 600.8,284" fill="#111"/>
<line x1="623" y1="289.5" x2="623" y2="302.3" stroke="#c8262e" stroke-width="2.4"/>
<polygon points="620.1,302.3 625.9,302.3 623,308.3" fill="#c8262e"/>
<text x="626.2" y="300" font-size="7.6" text-anchor="start" font-weight="bold" fill="#333" >P</text>
<line x1="543.6" y1="353.8" x2="626.1" y2="353.8" stroke="#e3262c" stroke-width="1.0" stroke-dasharray="1.1,1.1"/>
<line x1="555.5" y1="327.9" x2="555.5" y2="381.7" stroke="#7a7a7a" stroke-width="1.4"/>
<line x1="610.3" y1="327.9" x2="610.3" y2="381.7" stroke="#7a7a7a" stroke-width="1.4"/>
<line x1="555.5" y1="327.9" x2="610.3" y2="327.9" stroke="#1e1e1e" stroke-width="1.25"/>
<line x1="555.5" y1="381.7" x2="610.3" y2="381.7" stroke="#1e1e1e" stroke-width="1.25"/>
<line x1="570.6" y1="343.7" x2="555.5" y2="327.9" stroke="#111" stroke-width="1.9" stroke-linecap="round"/>
<line x1="570.6" y1="343.7" x2="555.5" y2="353.8" stroke="#111" stroke-width="1.9" stroke-linecap="round"/>
<line x1="570.6" y1="343.7" x2="583.1" y2="327.9" stroke="#111" stroke-width="1.9" stroke-linecap="round"/>
<line x1="570.6" y1="343.7" x2="583.1" y2="353.8" stroke="#111" stroke-width="1.9" stroke-linecap="round"/>
<line x1="570.6" y1="367" x2="555.5" y2="353.8" stroke="#111" stroke-width="1.9" stroke-linecap="round"/>
<line x1="570.6" y1="367" x2="555.5" y2="381.7" stroke="#111" stroke-width="1.9" stroke-linecap="round"/>
<line x1="570.6" y1="367" x2="583.1" y2="353.8" stroke="#111" stroke-width="1.9" stroke-linecap="round"/>
<line x1="570.6" y1="367" x2="583.1" y2="381.7" stroke="#111" stroke-width="1.9" stroke-linecap="round"/>
<line x1="583.1" y1="353.8" x2="610.3" y2="353.8" stroke="#111" stroke-width="1.2" stroke-linecap="round"/>
<line x1="583.1" y1="381.7" x2="610.3" y2="381.7" stroke="#111" stroke-width="1.2" stroke-linecap="round"/>
<circle cx="555.5" cy="327.9" r="5.4" fill="#b8932e" stroke="#5e4b1e" stroke-width="0.7"/>
<circle cx="555.5" cy="353.8" r="5.4" fill="#b8932e" stroke="#5e4b1e" stroke-width="0.7"/>
<circle cx="555.5" cy="381.7" r="5.4" fill="#b8932e" stroke="#5e4b1e" stroke-width="0.7"/>
<circle cx="583.1" cy="327.9" r="5.4" fill="#b8932e" stroke="#5e4b1e" stroke-width="0.7"/>
<circle cx="583.1" cy="353.8" r="5.4" fill="#b8932e" stroke="#5e4b1e" stroke-width="0.7"/>
<circle cx="583.1" cy="381.7" r="5.4" fill="#b8932e" stroke="#5e4b1e" stroke-width="0.7"/>
<circle cx="610.3" cy="327.9" r="5.4" fill="#b8932e" stroke="#5e4b1e" stroke-width="0.7"/>
<circle cx="610.3" cy="353.8" r="5.4" fill="#b8932e" stroke="#5e4b1e" stroke-width="0.7"/>
<circle cx="610.3" cy="381.7" r="5.4" fill="#b8932e" stroke="#5e4b1e" stroke-width="0.7"/>
<circle cx="569.2" cy="343.7" r="2.25" fill="#e0232b" stroke="#9a1a1a" stroke-width="0.35"/>
<circle cx="572" cy="343.7" r="2.25" fill="#e0232b" stroke="#9a1a1a" stroke-width="0.35"/>
<circle cx="569.2" cy="367" r="2.25" fill="#e0232b" stroke="#9a1a1a" stroke-width="0.35"/>
<circle cx="572" cy="367" r="2.25" fill="#e0232b" stroke="#9a1a1a" stroke-width="0.35"/>
<circle cx="592.8" cy="326.8" r="2.55" fill="#5aaee0" stroke="#2f6f9f" stroke-width="0.4"/>
<circle cx="597.8" cy="326.8" r="2.55" fill="#5aaee0" stroke="#2f6f9f" stroke-width="0.4"/>
<circle cx="593.8" cy="353.5" r="2.55" fill="#5aaee0" stroke="#2f6f9f" stroke-width="0.4"/>
<circle cx="598.8" cy="353.5" r="2.55" fill="#5aaee0" stroke="#2f6f9f" stroke-width="0.4"/>
<circle cx="594.5" cy="382.2" r="2.55" fill="#5aaee0" stroke="#2f6f9f" stroke-width="0.4"/>
<circle cx="599.5" cy="382.2" r="2.55" fill="#5aaee0" stroke="#2f6f9f" stroke-width="0.4"/>
<line x1="593" y1="331" x2="593" y2="333.1" stroke="#111" stroke-width="0.7"/>
<polygon points="591.7,333.1 594.3,333.1 593,335" fill="#111"/>
<line x1="598" y1="331" x2="598" y2="333.1" stroke="#111" stroke-width="0.7"/>
<polygon points="596.7,333.1 599.3,333.1 598,335" fill="#111"/>
<line x1="593.8" y1="356.8" x2="593.8" y2="358.9" stroke="#111" stroke-width="0.7"/>
<polygon points="592.5,358.9 595.1,358.9 593.8,360.8" fill="#111"/>
<line x1="598.8" y1="356.8" x2="598.8" y2="358.9" stroke="#111" stroke-width="0.7"/>
<polygon points="597.5,358.9 600.1,358.9 598.8,360.8" fill="#111"/>
<text x="627.8" y="363.3" font-size="10.7" text-anchor="start" font-weight="bold" fill="#111" >T-Path</text>
<text x="627.8" y="375.9" font-size="10.6" text-anchor="start" font-weight="normal" fill="#222" >70 &#956;C/cm<tspan font-size="7.2" dy="-3.8">2</tspan></text>
<line x1="543.6" y1="428.1" x2="626.1" y2="428.1" stroke="#e3262c" stroke-width="1.0" stroke-dasharray="1.1,1.1"/>
<line x1="557.2" y1="398.6" x2="557.2" y2="452.6" stroke="#7a7a7a" stroke-width="1.4"/>
<line x1="612.2" y1="398.6" x2="612.2" y2="452.6" stroke="#7a7a7a" stroke-width="1.4"/>
<line x1="557.2" y1="398.6" x2="612.2" y2="398.6" stroke="#1e1e1e" stroke-width="1.25"/>
<line x1="557.2" y1="452.6" x2="612.2" y2="452.6" stroke="#1e1e1e" stroke-width="1.25"/>
<line x1="571.9" y1="414.4" x2="557.2" y2="398.6" stroke="#111" stroke-width="1.9" stroke-linecap="round"/>
<line x1="571.9" y1="414.4" x2="557.2" y2="427.3" stroke="#111" stroke-width="1.9" stroke-linecap="round"/>
<line x1="571.9" y1="414.4" x2="584.8" y2="398.6" stroke="#111" stroke-width="1.9" stroke-linecap="round"/>
<line x1="571.9" y1="414.4" x2="584.8" y2="427.3" stroke="#111" stroke-width="1.9" stroke-linecap="round"/>
<line x1="571.9" y1="438.1" x2="557.2" y2="427.3" stroke="#111" stroke-width="1.9" stroke-linecap="round"/>
<line x1="571.9" y1="438.1" x2="557.2" y2="452.6" stroke="#111" stroke-width="1.9" stroke-linecap="round"/>
<line x1="571.9" y1="438.1" x2="584.8" y2="427.3" stroke="#111" stroke-width="1.9" stroke-linecap="round"/>
<line x1="571.9" y1="438.1" x2="584.8" y2="452.6" stroke="#111" stroke-width="1.9" stroke-linecap="round"/>
<line x1="595.6" y1="409.4" x2="584.8" y2="398.6" stroke="#111" stroke-width="1.9" stroke-linecap="round"/>
<line x1="600.4" y1="409.4" x2="612.2" y2="398.6" stroke="#111" stroke-width="1.9" stroke-linecap="round"/>
<line x1="595.6" y1="409.4" x2="584.8" y2="427.3" stroke="#111" stroke-width="1.9" stroke-linecap="round"/>
<line x1="600.4" y1="409.4" x2="612.2" y2="427.3" stroke="#111" stroke-width="1.9" stroke-linecap="round"/>
<line x1="595.6" y1="436" x2="584.8" y2="427.3" stroke="#111" stroke-width="1.9" stroke-linecap="round"/>
<line x1="600.4" y1="436" x2="612.2" y2="427.3" stroke="#111" stroke-width="1.9" stroke-linecap="round"/>
<line x1="595.6" y1="436" x2="584.8" y2="452.6" stroke="#111" stroke-width="1.9" stroke-linecap="round"/>
<line x1="600.4" y1="436" x2="612.2" y2="452.6" stroke="#111" stroke-width="1.9" stroke-linecap="round"/>
<circle cx="557.2" cy="398.6" r="5.4" fill="#b8932e" stroke="#5e4b1e" stroke-width="0.7"/>
<circle cx="557.2" cy="427.3" r="5.4" fill="#b8932e" stroke="#5e4b1e" stroke-width="0.7"/>
<circle cx="557.2" cy="452.6" r="5.4" fill="#b8932e" stroke="#5e4b1e" stroke-width="0.7"/>
<circle cx="584.8" cy="398.6" r="5.4" fill="#b8932e" stroke="#5e4b1e" stroke-width="0.7"/>
<circle cx="584.8" cy="427.3" r="5.4" fill="#b8932e" stroke="#5e4b1e" stroke-width="0.7"/>
<circle cx="584.8" cy="452.6" r="5.4" fill="#b8932e" stroke="#5e4b1e" stroke-width="0.7"/>
<circle cx="612.2" cy="398.6" r="5.4" fill="#b8932e" stroke="#5e4b1e" stroke-width="0.7"/>
<circle cx="612.2" cy="427.3" r="5.4" fill="#b8932e" stroke="#5e4b1e" stroke-width="0.7"/>
<circle cx="612.2" cy="452.6" r="5.4" fill="#b8932e" stroke="#5e4b1e" stroke-width="0.7"/>
<circle cx="570.5" cy="414.4" r="2.25" fill="#e0232b" stroke="#9a1a1a" stroke-width="0.35"/>
<circle cx="573.3" cy="414.4" r="2.25" fill="#e0232b" stroke="#9a1a1a" stroke-width="0.35"/>
<circle cx="570.5" cy="438.1" r="2.25" fill="#e0232b" stroke="#9a1a1a" stroke-width="0.35"/>
<circle cx="573.3" cy="438.1" r="2.25" fill="#e0232b" stroke="#9a1a1a" stroke-width="0.35"/>
<circle cx="595.5" cy="409.4" r="2.55" fill="#5aaee0" stroke="#2f6f9f" stroke-width="0.4"/>
<circle cx="600.5" cy="409.4" r="2.55" fill="#5aaee0" stroke="#2f6f9f" stroke-width="0.4"/>
<circle cx="595.5" cy="436" r="2.55" fill="#5aaee0" stroke="#2f6f9f" stroke-width="0.4"/>
<circle cx="600.5" cy="436" r="2.55" fill="#5aaee0" stroke="#2f6f9f" stroke-width="0.4"/>
<line x1="623.1" y1="451.4" x2="623.1" y2="439.4" stroke="#c8262e" stroke-width="2.4"/>
<polygon points="620.2,439.4 626,439.4 623.1,433.4" fill="#c8262e"/>
<text x="626.4" y="446.8" font-size="7.6" text-anchor="start" font-weight="bold" fill="#333" >P</text>
<circle cx="541.1" cy="473.9" r="4.7" fill="#e0232b" stroke="#3a3a5a" stroke-width="0.8"/>
<text x="548" y="476.5" font-size="7.4" text-anchor="start" font-weight="normal" fill="#1a1a1a" stroke="#1a1a1a" stroke-width="0.3">O4-Oxygen</text>
<circle cx="593.7" cy="473.9" r="4.7" fill="#5aaee0" stroke="#3a3a5a" stroke-width="0.8"/>
<text x="600.2" y="476.5" font-size="7.4" text-anchor="start" font-weight="normal" fill="#1a1a1a" stroke="#1a1a1a" stroke-width="0.3">O3-Oxygen</text>
<circle cx="646.8" cy="474.2" r="4.8" fill="#b8932e" stroke="#3a3a5a" stroke-width="0.8"/>
<text x="653.8" y="476.8" font-size="7.4" text-anchor="start" font-weight="normal" fill="#1a1a1a" stroke="#1a1a1a" stroke-width="0.3">Hafnium</text>
<text x="0" y="14.5" font-size="18.5" text-anchor="start" font-weight="bold" fill="#111" >a</text>
<text x="267.2" y="14.3" font-size="18.5" text-anchor="start" font-weight="normal" fill="#111" stroke="#111" stroke-width="0.55">b</text>
<text x="519.2" y="14.4" font-size="18.5" text-anchor="start" font-weight="bold" fill="#111" >c</text>
<text x="0.6" y="187.9" font-size="19.5" text-anchor="start" font-weight="normal" fill="#111" stroke="#111" stroke-width="0.55">d</text>
<text x="266.5" y="187.9" font-size="18.5" text-anchor="start" font-weight="normal" fill="#111" stroke="#111" stroke-width="0.55">e</text>
</svg>
</body></html>
